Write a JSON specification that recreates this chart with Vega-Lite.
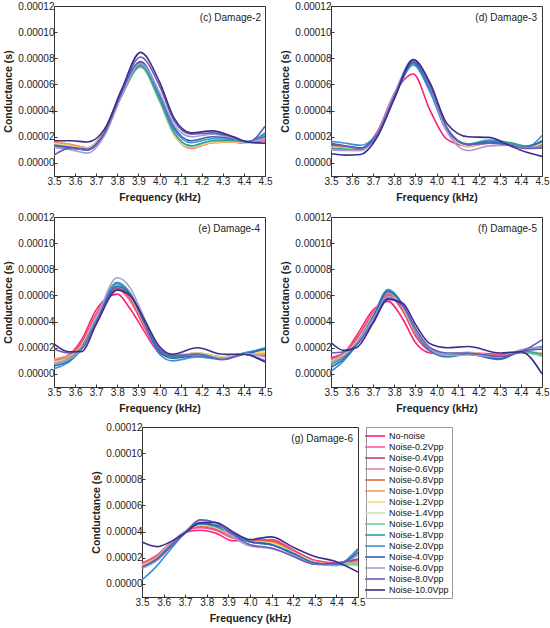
{
  "$schema": "https://vega.github.io/schema/vega-lite/v6.json",
  "padding": {"left": 3, "top": 0, "right": 3, "bottom": 2},
  "config": {
    "font": "Liberation Sans",
    "view": {"stroke": "#333", "strokeWidth": 1},
    "axis": {
      "grid": false,
      "domainColor": "#333",
      "tickColor": "#333",
      "tickSize": -3,
      "labelFontSize": 10,
      "labelColor": "#222",
      "labelPadding": 3,
      "labelOverlap": false,
      "labelFlush": false,
      "titleFontSize": 10.5,
      "titleFontWeight": "bold",
      "titleColor": "#222"
    },
    "axisX": {"titlePadding": 6, "tickCount": 11},
    "axisY": {"titlePadding": 4, "tickCount": 7},
    "text": {"font": "Liberation Sans", "fontSize": 10, "color": "#222"},
    "line": {"strokeWidth": 1.6, "interpolate": "monotone"}
  },
  "datasets": {
    "cond": [
{"p":"c","s":"No-noise","f":3.5,"g":1.5e-5},{"p":"c","s":"No-noise","f":3.58,"g":1.35e-5},{"p":"c","s":"No-noise","f":3.66,"g":1.15e-5},{"p":"c","s":"No-noise","f":3.74,"g":2.5e-5},{"p":"c","s":"No-noise","f":3.82,"g":5.4e-5},{"p":"c","s":"No-noise","f":3.91,"g":7.7e-5},{"p":"c","s":"No-noise","f":4.0,"g":5.0e-5},{"p":"c","s":"No-noise","f":4.07,"g":2.3e-5},{"p":"c","s":"No-noise","f":4.15,"g":1.2e-5},{"p":"c","s":"No-noise","f":4.25,"g":1.6e-5},{"p":"c","s":"No-noise","f":4.35,"g":1.65e-5},{"p":"c","s":"No-noise","f":4.42,"g":1.55e-5},{"p":"c","s":"No-noise","f":4.5,"g":1.7e-5},
{"p":"c","s":"Noise-0.2Vpp","f":3.5,"g":1.45e-5},{"p":"c","s":"Noise-0.2Vpp","f":3.58,"g":1.3e-5},{"p":"c","s":"Noise-0.2Vpp","f":3.66,"g":1.1e-5},{"p":"c","s":"Noise-0.2Vpp","f":3.74,"g":2.4e-5},{"p":"c","s":"Noise-0.2Vpp","f":3.82,"g":5.2e-5},{"p":"c","s":"Noise-0.2Vpp","f":3.91,"g":7.5e-5},{"p":"c","s":"Noise-0.2Vpp","f":4.0,"g":4.8e-5},{"p":"c","s":"Noise-0.2Vpp","f":4.07,"g":2.2e-5},{"p":"c","s":"Noise-0.2Vpp","f":4.15,"g":1.15e-5},{"p":"c","s":"Noise-0.2Vpp","f":4.25,"g":1.6e-5},{"p":"c","s":"Noise-0.2Vpp","f":4.35,"g":1.65e-5},{"p":"c","s":"Noise-0.2Vpp","f":4.42,"g":1.55e-5},{"p":"c","s":"Noise-0.2Vpp","f":4.5,"g":1.75e-5},
{"p":"c","s":"Noise-0.4Vpp","f":3.5,"g":1.55e-5},{"p":"c","s":"Noise-0.4Vpp","f":3.58,"g":1.35e-5},{"p":"c","s":"Noise-0.4Vpp","f":3.66,"g":1.1e-5},{"p":"c","s":"Noise-0.4Vpp","f":3.74,"g":2.4e-5},{"p":"c","s":"Noise-0.4Vpp","f":3.82,"g":5.25e-5},{"p":"c","s":"Noise-0.4Vpp","f":3.91,"g":7.55e-5},{"p":"c","s":"Noise-0.4Vpp","f":4.0,"g":4.85e-5},{"p":"c","s":"Noise-0.4Vpp","f":4.07,"g":2.2e-5},{"p":"c","s":"Noise-0.4Vpp","f":4.15,"g":1.2e-5},{"p":"c","s":"Noise-0.4Vpp","f":4.25,"g":1.65e-5},{"p":"c","s":"Noise-0.4Vpp","f":4.35,"g":1.6e-5},{"p":"c","s":"Noise-0.4Vpp","f":4.42,"g":1.5e-5},{"p":"c","s":"Noise-0.4Vpp","f":4.5,"g":1.6e-5},
{"p":"c","s":"Noise-0.6Vpp","f":3.5,"g":1.4e-5},{"p":"c","s":"Noise-0.6Vpp","f":3.58,"g":1.25e-5},{"p":"c","s":"Noise-0.6Vpp","f":3.66,"g":1.0e-5},{"p":"c","s":"Noise-0.6Vpp","f":3.74,"g":2.35e-5},{"p":"c","s":"Noise-0.6Vpp","f":3.82,"g":5.15e-5},{"p":"c","s":"Noise-0.6Vpp","f":3.91,"g":7.45e-5},{"p":"c","s":"Noise-0.6Vpp","f":4.0,"g":4.8e-5},{"p":"c","s":"Noise-0.6Vpp","f":4.07,"g":2.15e-5},{"p":"c","s":"Noise-0.6Vpp","f":4.15,"g":1.15e-5},{"p":"c","s":"Noise-0.6Vpp","f":4.25,"g":1.6e-5},{"p":"c","s":"Noise-0.6Vpp","f":4.35,"g":1.7e-5},{"p":"c","s":"Noise-0.6Vpp","f":4.42,"g":1.6e-5},{"p":"c","s":"Noise-0.6Vpp","f":4.5,"g":1.9e-5},
{"p":"c","s":"Noise-0.8Vpp","f":3.5,"g":1.6e-5},{"p":"c","s":"Noise-0.8Vpp","f":3.58,"g":1.4e-5},{"p":"c","s":"Noise-0.8Vpp","f":3.66,"g":1.15e-5},{"p":"c","s":"Noise-0.8Vpp","f":3.74,"g":2.4e-5},{"p":"c","s":"Noise-0.8Vpp","f":3.82,"g":5.2e-5},{"p":"c","s":"Noise-0.8Vpp","f":3.91,"g":7.4e-5},{"p":"c","s":"Noise-0.8Vpp","f":4.0,"g":4.75e-5},{"p":"c","s":"Noise-0.8Vpp","f":4.07,"g":2.15e-5},{"p":"c","s":"Noise-0.8Vpp","f":4.15,"g":1.1e-5},{"p":"c","s":"Noise-0.8Vpp","f":4.25,"g":1.55e-5},{"p":"c","s":"Noise-0.8Vpp","f":4.35,"g":1.6e-5},{"p":"c","s":"Noise-0.8Vpp","f":4.42,"g":1.55e-5},{"p":"c","s":"Noise-0.8Vpp","f":4.5,"g":1.65e-5},
{"p":"c","s":"Noise-1.0Vpp","f":3.5,"g":1.65e-5},{"p":"c","s":"Noise-1.0Vpp","f":3.58,"g":1.4e-5},{"p":"c","s":"Noise-1.0Vpp","f":3.66,"g":1.15e-5},{"p":"c","s":"Noise-1.0Vpp","f":3.74,"g":2.45e-5},{"p":"c","s":"Noise-1.0Vpp","f":3.82,"g":5.2e-5},{"p":"c","s":"Noise-1.0Vpp","f":3.91,"g":7.35e-5},{"p":"c","s":"Noise-1.0Vpp","f":4.0,"g":4.7e-5},{"p":"c","s":"Noise-1.0Vpp","f":4.07,"g":2.1e-5},{"p":"c","s":"Noise-1.0Vpp","f":4.15,"g":1.15e-5},{"p":"c","s":"Noise-1.0Vpp","f":4.25,"g":1.55e-5},{"p":"c","s":"Noise-1.0Vpp","f":4.35,"g":1.6e-5},{"p":"c","s":"Noise-1.0Vpp","f":4.42,"g":1.5e-5},{"p":"c","s":"Noise-1.0Vpp","f":4.5,"g":1.6e-5},
{"p":"c","s":"Noise-1.2Vpp","f":3.5,"g":1.5e-5},{"p":"c","s":"Noise-1.2Vpp","f":3.58,"g":1.3e-5},{"p":"c","s":"Noise-1.2Vpp","f":3.66,"g":1.1e-5},{"p":"c","s":"Noise-1.2Vpp","f":3.74,"g":2.4e-5},{"p":"c","s":"Noise-1.2Vpp","f":3.82,"g":5.15e-5},{"p":"c","s":"Noise-1.2Vpp","f":3.91,"g":7.3e-5},{"p":"c","s":"Noise-1.2Vpp","f":4.0,"g":4.7e-5},{"p":"c","s":"Noise-1.2Vpp","f":4.07,"g":2.1e-5},{"p":"c","s":"Noise-1.2Vpp","f":4.15,"g":1.2e-5},{"p":"c","s":"Noise-1.2Vpp","f":4.25,"g":1.6e-5},{"p":"c","s":"Noise-1.2Vpp","f":4.35,"g":1.65e-5},{"p":"c","s":"Noise-1.2Vpp","f":4.42,"g":1.5e-5},{"p":"c","s":"Noise-1.2Vpp","f":4.5,"g":1.55e-5},
{"p":"c","s":"Noise-1.4Vpp","f":3.5,"g":1.35e-5},{"p":"c","s":"Noise-1.4Vpp","f":3.58,"g":1.2e-5},{"p":"c","s":"Noise-1.4Vpp","f":3.66,"g":1.05e-5},{"p":"c","s":"Noise-1.4Vpp","f":3.74,"g":2.35e-5},{"p":"c","s":"Noise-1.4Vpp","f":3.82,"g":5.1e-5},{"p":"c","s":"Noise-1.4Vpp","f":3.91,"g":7.3e-5},{"p":"c","s":"Noise-1.4Vpp","f":4.0,"g":4.75e-5},{"p":"c","s":"Noise-1.4Vpp","f":4.07,"g":2.2e-5},{"p":"c","s":"Noise-1.4Vpp","f":4.15,"g":1.25e-5},{"p":"c","s":"Noise-1.4Vpp","f":4.25,"g":1.65e-5},{"p":"c","s":"Noise-1.4Vpp","f":4.35,"g":1.7e-5},{"p":"c","s":"Noise-1.4Vpp","f":4.42,"g":1.6e-5},{"p":"c","s":"Noise-1.4Vpp","f":4.5,"g":2.0e-5},
{"p":"c","s":"Noise-1.6Vpp","f":3.5,"g":1.25e-5},{"p":"c","s":"Noise-1.6Vpp","f":3.58,"g":1.15e-5},{"p":"c","s":"Noise-1.6Vpp","f":3.66,"g":1.0e-5},{"p":"c","s":"Noise-1.6Vpp","f":3.74,"g":2.3e-5},{"p":"c","s":"Noise-1.6Vpp","f":3.82,"g":5.1e-5},{"p":"c","s":"Noise-1.6Vpp","f":3.91,"g":7.35e-5},{"p":"c","s":"Noise-1.6Vpp","f":4.0,"g":4.8e-5},{"p":"c","s":"Noise-1.6Vpp","f":4.07,"g":2.25e-5},{"p":"c","s":"Noise-1.6Vpp","f":4.15,"g":1.3e-5},{"p":"c","s":"Noise-1.6Vpp","f":4.25,"g":1.7e-5},{"p":"c","s":"Noise-1.6Vpp","f":4.35,"g":1.75e-5},{"p":"c","s":"Noise-1.6Vpp","f":4.42,"g":1.65e-5},{"p":"c","s":"Noise-1.6Vpp","f":4.5,"g":2.1e-5},
{"p":"c","s":"Noise-1.8Vpp","f":3.5,"g":1.2e-5},{"p":"c","s":"Noise-1.8Vpp","f":3.58,"g":1.1e-5},{"p":"c","s":"Noise-1.8Vpp","f":3.66,"g":1.0e-5},{"p":"c","s":"Noise-1.8Vpp","f":3.74,"g":2.3e-5},{"p":"c","s":"Noise-1.8Vpp","f":3.82,"g":5.15e-5},{"p":"c","s":"Noise-1.8Vpp","f":3.91,"g":7.4e-5},{"p":"c","s":"Noise-1.8Vpp","f":4.0,"g":4.85e-5},{"p":"c","s":"Noise-1.8Vpp","f":4.07,"g":2.3e-5},{"p":"c","s":"Noise-1.8Vpp","f":4.15,"g":1.3e-5},{"p":"c","s":"Noise-1.8Vpp","f":4.25,"g":1.7e-5},{"p":"c","s":"Noise-1.8Vpp","f":4.35,"g":1.7e-5},{"p":"c","s":"Noise-1.8Vpp","f":4.42,"g":1.6e-5},{"p":"c","s":"Noise-1.8Vpp","f":4.5,"g":2.2e-5},
{"p":"c","s":"Noise-2.0Vpp","f":3.5,"g":1.3e-5},{"p":"c","s":"Noise-2.0Vpp","f":3.58,"g":1.15e-5},{"p":"c","s":"Noise-2.0Vpp","f":3.66,"g":1.0e-5},{"p":"c","s":"Noise-2.0Vpp","f":3.74,"g":2.3e-5},{"p":"c","s":"Noise-2.0Vpp","f":3.82,"g":5.2e-5},{"p":"c","s":"Noise-2.0Vpp","f":3.91,"g":7.6e-5},{"p":"c","s":"Noise-2.0Vpp","f":4.0,"g":5.1e-5},{"p":"c","s":"Noise-2.0Vpp","f":4.07,"g":2.55e-5},{"p":"c","s":"Noise-2.0Vpp","f":4.15,"g":1.55e-5},{"p":"c","s":"Noise-2.0Vpp","f":4.25,"g":1.85e-5},{"p":"c","s":"Noise-2.0Vpp","f":4.35,"g":1.8e-5},{"p":"c","s":"Noise-2.0Vpp","f":4.42,"g":1.65e-5},{"p":"c","s":"Noise-2.0Vpp","f":4.5,"g":2.3e-5},
{"p":"c","s":"Noise-4.0Vpp","f":3.5,"g":1.35e-5},{"p":"c","s":"Noise-4.0Vpp","f":3.58,"g":1.2e-5},{"p":"c","s":"Noise-4.0Vpp","f":3.66,"g":1.05e-5},{"p":"c","s":"Noise-4.0Vpp","f":3.74,"g":2.35e-5},{"p":"c","s":"Noise-4.0Vpp","f":3.82,"g":5.3e-5},{"p":"c","s":"Noise-4.0Vpp","f":3.91,"g":7.75e-5},{"p":"c","s":"Noise-4.0Vpp","f":4.0,"g":5.3e-5},{"p":"c","s":"Noise-4.0Vpp","f":4.07,"g":2.7e-5},{"p":"c","s":"Noise-4.0Vpp","f":4.15,"g":1.7e-5},{"p":"c","s":"Noise-4.0Vpp","f":4.25,"g":2.0e-5},{"p":"c","s":"Noise-4.0Vpp","f":4.35,"g":1.85e-5},{"p":"c","s":"Noise-4.0Vpp","f":4.42,"g":1.6e-5},{"p":"c","s":"Noise-4.0Vpp","f":4.5,"g":2.0e-5},
{"p":"c","s":"Noise-6.0Vpp","f":3.5,"g":1.2e-5},{"p":"c","s":"Noise-6.0Vpp","f":3.58,"g":1.0e-5},{"p":"c","s":"Noise-6.0Vpp","f":3.66,"g":0.75e-5},{"p":"c","s":"Noise-6.0Vpp","f":3.74,"g":2.1e-5},{"p":"c","s":"Noise-6.0Vpp","f":3.82,"g":5.1e-5},{"p":"c","s":"Noise-6.0Vpp","f":3.91,"g":7.6e-5},{"p":"c","s":"Noise-6.0Vpp","f":4.0,"g":5.4e-5},{"p":"c","s":"Noise-6.0Vpp","f":4.07,"g":2.9e-5},{"p":"c","s":"Noise-6.0Vpp","f":4.15,"g":2.0e-5},{"p":"c","s":"Noise-6.0Vpp","f":4.25,"g":2.2e-5},{"p":"c","s":"Noise-6.0Vpp","f":4.35,"g":1.9e-5},{"p":"c","s":"Noise-6.0Vpp","f":4.42,"g":1.6e-5},{"p":"c","s":"Noise-6.0Vpp","f":4.5,"g":1.9e-5},
{"p":"c","s":"Noise-8.0Vpp","f":3.5,"g":0.6e-5},{"p":"c","s":"Noise-8.0Vpp","f":3.58,"g":1.15e-5},{"p":"c","s":"Noise-8.0Vpp","f":3.66,"g":1.0e-5},{"p":"c","s":"Noise-8.0Vpp","f":3.74,"g":2.3e-5},{"p":"c","s":"Noise-8.0Vpp","f":3.82,"g":5.4e-5},{"p":"c","s":"Noise-8.0Vpp","f":3.91,"g":8.1e-5},{"p":"c","s":"Noise-8.0Vpp","f":4.0,"g":5.9e-5},{"p":"c","s":"Noise-8.0Vpp","f":4.07,"g":3.2e-5},{"p":"c","s":"Noise-8.0Vpp","f":4.15,"g":2.2e-5},{"p":"c","s":"Noise-8.0Vpp","f":4.25,"g":2.3e-5},{"p":"c","s":"Noise-8.0Vpp","f":4.35,"g":1.95e-5},{"p":"c","s":"Noise-8.0Vpp","f":4.42,"g":1.6e-5},{"p":"c","s":"Noise-8.0Vpp","f":4.5,"g":2.8e-5},
{"p":"c","s":"Noise-10.0Vpp","f":3.5,"g":1.7e-5},{"p":"c","s":"Noise-10.0Vpp","f":3.58,"g":1.7e-5},{"p":"c","s":"Noise-10.0Vpp","f":3.66,"g":1.6e-5},{"p":"c","s":"Noise-10.0Vpp","f":3.74,"g":2.6e-5},{"p":"c","s":"Noise-10.0Vpp","f":3.82,"g":5.6e-5},{"p":"c","s":"Noise-10.0Vpp","f":3.91,"g":8.45e-5},{"p":"c","s":"Noise-10.0Vpp","f":4.0,"g":6.2e-5},{"p":"c","s":"Noise-10.0Vpp","f":4.07,"g":3.4e-5},{"p":"c","s":"Noise-10.0Vpp","f":4.15,"g":2.3e-5},{"p":"c","s":"Noise-10.0Vpp","f":4.25,"g":2.45e-5},{"p":"c","s":"Noise-10.0Vpp","f":4.35,"g":2.0e-5},{"p":"c","s":"Noise-10.0Vpp","f":4.42,"g":1.6e-5},{"p":"c","s":"Noise-10.0Vpp","f":4.5,"g":1.5e-5},

{"p":"d","s":"No-noise","f":3.5,"g":1.25e-5},{"p":"d","s":"No-noise","f":3.57,"g":1.15e-5},{"p":"d","s":"No-noise","f":3.64,"g":1.05e-5},{"p":"d","s":"No-noise","f":3.72,"g":2.4e-5},{"p":"d","s":"No-noise","f":3.8,"g":5.3e-5},{"p":"d","s":"No-noise","f":3.89,"g":6.8e-5},{"p":"d","s":"No-noise","f":3.97,"g":4.0e-5},{"p":"d","s":"No-noise","f":4.05,"g":1.8e-5},{"p":"d","s":"No-noise","f":4.15,"g":1.3e-5},{"p":"d","s":"No-noise","f":4.25,"g":1.5e-5},{"p":"d","s":"No-noise","f":4.35,"g":1.45e-5},{"p":"d","s":"No-noise","f":4.42,"g":1.25e-5},{"p":"d","s":"No-noise","f":4.5,"g":1.3e-5},
{"p":"d","s":"Noise-0.2Vpp","f":3.5,"g":1.3e-5},{"p":"d","s":"Noise-0.2Vpp","f":3.57,"g":1.2e-5},{"p":"d","s":"Noise-0.2Vpp","f":3.64,"g":1.05e-5},{"p":"d","s":"Noise-0.2Vpp","f":3.72,"g":2.3e-5},{"p":"d","s":"Noise-0.2Vpp","f":3.8,"g":5.2e-5},{"p":"d","s":"Noise-0.2Vpp","f":3.89,"g":7.7e-5},{"p":"d","s":"Noise-0.2Vpp","f":3.97,"g":5.5e-5},{"p":"d","s":"Noise-0.2Vpp","f":4.05,"g":2.4e-5},{"p":"d","s":"Noise-0.2Vpp","f":4.15,"g":1.3e-5},{"p":"d","s":"Noise-0.2Vpp","f":4.25,"g":1.6e-5},{"p":"d","s":"Noise-0.2Vpp","f":4.35,"g":1.45e-5},{"p":"d","s":"Noise-0.2Vpp","f":4.42,"g":1.2e-5},{"p":"d","s":"Noise-0.2Vpp","f":4.5,"g":1.35e-5},
{"p":"d","s":"Noise-0.4Vpp","f":3.5,"g":1.25e-5},{"p":"d","s":"Noise-0.4Vpp","f":3.57,"g":1.15e-5},{"p":"d","s":"Noise-0.4Vpp","f":3.64,"g":1.05e-5},{"p":"d","s":"Noise-0.4Vpp","f":3.72,"g":2.25e-5},{"p":"d","s":"Noise-0.4Vpp","f":3.8,"g":5.2e-5},{"p":"d","s":"Noise-0.4Vpp","f":3.89,"g":7.75e-5},{"p":"d","s":"Noise-0.4Vpp","f":3.97,"g":5.55e-5},{"p":"d","s":"Noise-0.4Vpp","f":4.05,"g":2.45e-5},{"p":"d","s":"Noise-0.4Vpp","f":4.15,"g":1.3e-5},{"p":"d","s":"Noise-0.4Vpp","f":4.25,"g":1.6e-5},{"p":"d","s":"Noise-0.4Vpp","f":4.35,"g":1.4e-5},{"p":"d","s":"Noise-0.4Vpp","f":4.42,"g":1.2e-5},{"p":"d","s":"Noise-0.4Vpp","f":4.5,"g":1.4e-5},
{"p":"d","s":"Noise-0.6Vpp","f":3.5,"g":1.2e-5},{"p":"d","s":"Noise-0.6Vpp","f":3.57,"g":1.1e-5},{"p":"d","s":"Noise-0.6Vpp","f":3.64,"g":1.0e-5},{"p":"d","s":"Noise-0.6Vpp","f":3.72,"g":2.2e-5},{"p":"d","s":"Noise-0.6Vpp","f":3.8,"g":5.15e-5},{"p":"d","s":"Noise-0.6Vpp","f":3.89,"g":7.8e-5},{"p":"d","s":"Noise-0.6Vpp","f":3.97,"g":5.6e-5},{"p":"d","s":"Noise-0.6Vpp","f":4.05,"g":2.5e-5},{"p":"d","s":"Noise-0.6Vpp","f":4.15,"g":1.25e-5},{"p":"d","s":"Noise-0.6Vpp","f":4.25,"g":1.55e-5},{"p":"d","s":"Noise-0.6Vpp","f":4.35,"g":1.4e-5},{"p":"d","s":"Noise-0.6Vpp","f":4.42,"g":1.2e-5},{"p":"d","s":"Noise-0.6Vpp","f":4.5,"g":1.45e-5},
{"p":"d","s":"Noise-0.8Vpp","f":3.5,"g":1.35e-5},{"p":"d","s":"Noise-0.8Vpp","f":3.57,"g":1.2e-5},{"p":"d","s":"Noise-0.8Vpp","f":3.64,"g":1.05e-5},{"p":"d","s":"Noise-0.8Vpp","f":3.72,"g":2.3e-5},{"p":"d","s":"Noise-0.8Vpp","f":3.8,"g":5.2e-5},{"p":"d","s":"Noise-0.8Vpp","f":3.89,"g":7.75e-5},{"p":"d","s":"Noise-0.8Vpp","f":3.97,"g":5.55e-5},{"p":"d","s":"Noise-0.8Vpp","f":4.05,"g":2.45e-5},{"p":"d","s":"Noise-0.8Vpp","f":4.15,"g":1.35e-5},{"p":"d","s":"Noise-0.8Vpp","f":4.25,"g":1.6e-5},{"p":"d","s":"Noise-0.8Vpp","f":4.35,"g":1.4e-5},{"p":"d","s":"Noise-0.8Vpp","f":4.42,"g":1.2e-5},{"p":"d","s":"Noise-0.8Vpp","f":4.5,"g":1.45e-5},
{"p":"d","s":"Noise-1.0Vpp","f":3.5,"g":1.3e-5},{"p":"d","s":"Noise-1.0Vpp","f":3.57,"g":1.2e-5},{"p":"d","s":"Noise-1.0Vpp","f":3.64,"g":1.1e-5},{"p":"d","s":"Noise-1.0Vpp","f":3.72,"g":2.25e-5},{"p":"d","s":"Noise-1.0Vpp","f":3.8,"g":5.15e-5},{"p":"d","s":"Noise-1.0Vpp","f":3.89,"g":7.7e-5},{"p":"d","s":"Noise-1.0Vpp","f":3.97,"g":5.5e-5},{"p":"d","s":"Noise-1.0Vpp","f":4.05,"g":2.45e-5},{"p":"d","s":"Noise-1.0Vpp","f":4.15,"g":1.3e-5},{"p":"d","s":"Noise-1.0Vpp","f":4.25,"g":1.6e-5},{"p":"d","s":"Noise-1.0Vpp","f":4.35,"g":1.45e-5},{"p":"d","s":"Noise-1.0Vpp","f":4.42,"g":1.25e-5},{"p":"d","s":"Noise-1.0Vpp","f":4.5,"g":1.5e-5},
{"p":"d","s":"Noise-1.2Vpp","f":3.5,"g":1.15e-5},{"p":"d","s":"Noise-1.2Vpp","f":3.57,"g":1.1e-5},{"p":"d","s":"Noise-1.2Vpp","f":3.64,"g":1.05e-5},{"p":"d","s":"Noise-1.2Vpp","f":3.72,"g":2.25e-5},{"p":"d","s":"Noise-1.2Vpp","f":3.8,"g":5.2e-5},{"p":"d","s":"Noise-1.2Vpp","f":3.89,"g":7.8e-5},{"p":"d","s":"Noise-1.2Vpp","f":3.97,"g":5.6e-5},{"p":"d","s":"Noise-1.2Vpp","f":4.05,"g":2.5e-5},{"p":"d","s":"Noise-1.2Vpp","f":4.15,"g":1.35e-5},{"p":"d","s":"Noise-1.2Vpp","f":4.25,"g":1.65e-5},{"p":"d","s":"Noise-1.2Vpp","f":4.35,"g":1.45e-5},{"p":"d","s":"Noise-1.2Vpp","f":4.42,"g":1.2e-5},{"p":"d","s":"Noise-1.2Vpp","f":4.5,"g":1.5e-5},
{"p":"d","s":"Noise-1.4Vpp","f":3.5,"g":1.1e-5},{"p":"d","s":"Noise-1.4Vpp","f":3.57,"g":1.05e-5},{"p":"d","s":"Noise-1.4Vpp","f":3.64,"g":1.0e-5},{"p":"d","s":"Noise-1.4Vpp","f":3.72,"g":2.2e-5},{"p":"d","s":"Noise-1.4Vpp","f":3.8,"g":5.15e-5},{"p":"d","s":"Noise-1.4Vpp","f":3.89,"g":7.8e-5},{"p":"d","s":"Noise-1.4Vpp","f":3.97,"g":5.6e-5},{"p":"d","s":"Noise-1.4Vpp","f":4.05,"g":2.5e-5},{"p":"d","s":"Noise-1.4Vpp","f":4.15,"g":1.3e-5},{"p":"d","s":"Noise-1.4Vpp","f":4.25,"g":1.6e-5},{"p":"d","s":"Noise-1.4Vpp","f":4.35,"g":1.45e-5},{"p":"d","s":"Noise-1.4Vpp","f":4.42,"g":1.25e-5},{"p":"d","s":"Noise-1.4Vpp","f":4.5,"g":1.55e-5},
{"p":"d","s":"Noise-1.6Vpp","f":3.5,"g":1.05e-5},{"p":"d","s":"Noise-1.6Vpp","f":3.57,"g":1.0e-5},{"p":"d","s":"Noise-1.6Vpp","f":3.64,"g":0.95e-5},{"p":"d","s":"Noise-1.6Vpp","f":3.72,"g":2.2e-5},{"p":"d","s":"Noise-1.6Vpp","f":3.8,"g":5.15e-5},{"p":"d","s":"Noise-1.6Vpp","f":3.89,"g":7.75e-5},{"p":"d","s":"Noise-1.6Vpp","f":3.97,"g":5.6e-5},{"p":"d","s":"Noise-1.6Vpp","f":4.05,"g":2.55e-5},{"p":"d","s":"Noise-1.6Vpp","f":4.15,"g":1.4e-5},{"p":"d","s":"Noise-1.6Vpp","f":4.25,"g":1.7e-5},{"p":"d","s":"Noise-1.6Vpp","f":4.35,"g":1.5e-5},{"p":"d","s":"Noise-1.6Vpp","f":4.42,"g":1.3e-5},{"p":"d","s":"Noise-1.6Vpp","f":4.5,"g":1.6e-5},
{"p":"d","s":"Noise-1.8Vpp","f":3.5,"g":1.1e-5},{"p":"d","s":"Noise-1.8Vpp","f":3.57,"g":1.05e-5},{"p":"d","s":"Noise-1.8Vpp","f":3.64,"g":1.0e-5},{"p":"d","s":"Noise-1.8Vpp","f":3.72,"g":2.2e-5},{"p":"d","s":"Noise-1.8Vpp","f":3.8,"g":5.1e-5},{"p":"d","s":"Noise-1.8Vpp","f":3.89,"g":7.6e-5},{"p":"d","s":"Noise-1.8Vpp","f":3.97,"g":5.5e-5},{"p":"d","s":"Noise-1.8Vpp","f":4.05,"g":2.5e-5},{"p":"d","s":"Noise-1.8Vpp","f":4.15,"g":1.45e-5},{"p":"d","s":"Noise-1.8Vpp","f":4.25,"g":1.75e-5},{"p":"d","s":"Noise-1.8Vpp","f":4.35,"g":1.55e-5},{"p":"d","s":"Noise-1.8Vpp","f":4.42,"g":1.3e-5},{"p":"d","s":"Noise-1.8Vpp","f":4.5,"g":1.6e-5},
{"p":"d","s":"Noise-2.0Vpp","f":3.5,"g":1.65e-5},{"p":"d","s":"Noise-2.0Vpp","f":3.57,"g":1.5e-5},{"p":"d","s":"Noise-2.0Vpp","f":3.64,"g":1.35e-5},{"p":"d","s":"Noise-2.0Vpp","f":3.72,"g":2.3e-5},{"p":"d","s":"Noise-2.0Vpp","f":3.8,"g":5.0e-5},{"p":"d","s":"Noise-2.0Vpp","f":3.89,"g":7.5e-5},{"p":"d","s":"Noise-2.0Vpp","f":3.97,"g":5.4e-5},{"p":"d","s":"Noise-2.0Vpp","f":4.05,"g":2.45e-5},{"p":"d","s":"Noise-2.0Vpp","f":4.15,"g":1.4e-5},{"p":"d","s":"Noise-2.0Vpp","f":4.25,"g":1.7e-5},{"p":"d","s":"Noise-2.0Vpp","f":4.35,"g":1.4e-5},{"p":"d","s":"Noise-2.0Vpp","f":4.42,"g":1.15e-5},{"p":"d","s":"Noise-2.0Vpp","f":4.5,"g":2.1e-5},
{"p":"d","s":"Noise-4.0Vpp","f":3.5,"g":1.4e-5},{"p":"d","s":"Noise-4.0Vpp","f":3.57,"g":1.3e-5},{"p":"d","s":"Noise-4.0Vpp","f":3.64,"g":1.15e-5},{"p":"d","s":"Noise-4.0Vpp","f":3.72,"g":2.3e-5},{"p":"d","s":"Noise-4.0Vpp","f":3.8,"g":5.1e-5},{"p":"d","s":"Noise-4.0Vpp","f":3.89,"g":7.7e-5},{"p":"d","s":"Noise-4.0Vpp","f":3.97,"g":5.7e-5},{"p":"d","s":"Noise-4.0Vpp","f":4.05,"g":2.6e-5},{"p":"d","s":"Noise-4.0Vpp","f":4.15,"g":1.4e-5},{"p":"d","s":"Noise-4.0Vpp","f":4.25,"g":1.6e-5},{"p":"d","s":"Noise-4.0Vpp","f":4.35,"g":1.4e-5},{"p":"d","s":"Noise-4.0Vpp","f":4.42,"g":1.2e-5},{"p":"d","s":"Noise-4.0Vpp","f":4.5,"g":1.7e-5},
{"p":"d","s":"Noise-6.0Vpp","f":3.5,"g":1.0e-5},{"p":"d","s":"Noise-6.0Vpp","f":3.57,"g":0.95e-5},{"p":"d","s":"Noise-6.0Vpp","f":3.64,"g":0.95e-5},{"p":"d","s":"Noise-6.0Vpp","f":3.72,"g":2.3e-5},{"p":"d","s":"Noise-6.0Vpp","f":3.8,"g":5.3e-5},{"p":"d","s":"Noise-6.0Vpp","f":3.89,"g":7.9e-5},{"p":"d","s":"Noise-6.0Vpp","f":3.97,"g":5.8e-5},{"p":"d","s":"Noise-6.0Vpp","f":4.05,"g":2.4e-5},{"p":"d","s":"Noise-6.0Vpp","f":4.15,"g":0.95e-5},{"p":"d","s":"Noise-6.0Vpp","f":4.25,"g":1.3e-5},{"p":"d","s":"Noise-6.0Vpp","f":4.35,"g":1.35e-5},{"p":"d","s":"Noise-6.0Vpp","f":4.42,"g":1.15e-5},{"p":"d","s":"Noise-6.0Vpp","f":4.5,"g":1.25e-5},
{"p":"d","s":"Noise-8.0Vpp","f":3.5,"g":1.5e-5},{"p":"d","s":"Noise-8.0Vpp","f":3.57,"g":1.3e-5},{"p":"d","s":"Noise-8.0Vpp","f":3.64,"g":1.1e-5},{"p":"d","s":"Noise-8.0Vpp","f":3.72,"g":2.2e-5},{"p":"d","s":"Noise-8.0Vpp","f":3.8,"g":5.1e-5},{"p":"d","s":"Noise-8.0Vpp","f":3.89,"g":7.85e-5},{"p":"d","s":"Noise-8.0Vpp","f":3.97,"g":5.9e-5},{"p":"d","s":"Noise-8.0Vpp","f":4.05,"g":2.7e-5},{"p":"d","s":"Noise-8.0Vpp","f":4.15,"g":1.4e-5},{"p":"d","s":"Noise-8.0Vpp","f":4.25,"g":1.5e-5},{"p":"d","s":"Noise-8.0Vpp","f":4.35,"g":1.35e-5},{"p":"d","s":"Noise-8.0Vpp","f":4.42,"g":1.1e-5},{"p":"d","s":"Noise-8.0Vpp","f":4.5,"g":1.15e-5},
{"p":"d","s":"Noise-10.0Vpp","f":3.5,"g":0.7e-5},{"p":"d","s":"Noise-10.0Vpp","f":3.57,"g":0.6e-5},{"p":"d","s":"Noise-10.0Vpp","f":3.64,"g":0.65e-5},{"p":"d","s":"Noise-10.0Vpp","f":3.72,"g":2.0e-5},{"p":"d","s":"Noise-10.0Vpp","f":3.8,"g":4.9e-5},{"p":"d","s":"Noise-10.0Vpp","f":3.89,"g":7.9e-5},{"p":"d","s":"Noise-10.0Vpp","f":3.97,"g":6.1e-5},{"p":"d","s":"Noise-10.0Vpp","f":4.05,"g":3.0e-5},{"p":"d","s":"Noise-10.0Vpp","f":4.15,"g":2.0e-5},{"p":"d","s":"Noise-10.0Vpp","f":4.25,"g":1.95e-5},{"p":"d","s":"Noise-10.0Vpp","f":4.35,"g":1.3e-5},{"p":"d","s":"Noise-10.0Vpp","f":4.42,"g":0.85e-5},{"p":"d","s":"Noise-10.0Vpp","f":4.5,"g":0.5e-5},

{"p":"e","s":"No-noise","f":3.5,"g":1.1e-5},{"p":"e","s":"No-noise","f":3.57,"g":1.45e-5},{"p":"e","s":"No-noise","f":3.63,"g":2.6e-5},{"p":"e","s":"No-noise","f":3.7,"g":4.9e-5},{"p":"e","s":"No-noise","f":3.8,"g":6.1e-5},{"p":"e","s":"No-noise","f":3.86,"g":5.0e-5},{"p":"e","s":"No-noise","f":3.93,"g":3.2e-5},{"p":"e","s":"No-noise","f":4.0,"g":1.6e-5},{"p":"e","s":"No-noise","f":4.06,"g":1.3e-5},{"p":"e","s":"No-noise","f":4.18,"g":1.45e-5},{"p":"e","s":"No-noise","f":4.3,"g":1.3e-5},{"p":"e","s":"No-noise","f":4.4,"g":1.55e-5},{"p":"e","s":"No-noise","f":4.5,"g":1.5e-5},
{"p":"e","s":"Noise-0.2Vpp","f":3.5,"g":1.05e-5},{"p":"e","s":"Noise-0.2Vpp","f":3.57,"g":1.4e-5},{"p":"e","s":"Noise-0.2Vpp","f":3.63,"g":2.4e-5},{"p":"e","s":"Noise-0.2Vpp","f":3.7,"g":4.6e-5},{"p":"e","s":"Noise-0.2Vpp","f":3.8,"g":6.5e-5},{"p":"e","s":"Noise-0.2Vpp","f":3.86,"g":5.6e-5},{"p":"e","s":"Noise-0.2Vpp","f":3.93,"g":3.5e-5},{"p":"e","s":"Noise-0.2Vpp","f":4.0,"g":1.7e-5},{"p":"e","s":"Noise-0.2Vpp","f":4.06,"g":1.35e-5},{"p":"e","s":"Noise-0.2Vpp","f":4.18,"g":1.5e-5},{"p":"e","s":"Noise-0.2Vpp","f":4.3,"g":1.3e-5},{"p":"e","s":"Noise-0.2Vpp","f":4.4,"g":1.55e-5},{"p":"e","s":"Noise-0.2Vpp","f":4.5,"g":1.55e-5},
{"p":"e","s":"Noise-0.4Vpp","f":3.5,"g":0.95e-5},{"p":"e","s":"Noise-0.4Vpp","f":3.57,"g":1.35e-5},{"p":"e","s":"Noise-0.4Vpp","f":3.63,"g":2.3e-5},{"p":"e","s":"Noise-0.4Vpp","f":3.7,"g":4.5e-5},{"p":"e","s":"Noise-0.4Vpp","f":3.8,"g":6.6e-5},{"p":"e","s":"Noise-0.4Vpp","f":3.86,"g":5.8e-5},{"p":"e","s":"Noise-0.4Vpp","f":3.93,"g":3.6e-5},{"p":"e","s":"Noise-0.4Vpp","f":4.0,"g":1.75e-5},{"p":"e","s":"Noise-0.4Vpp","f":4.06,"g":1.35e-5},{"p":"e","s":"Noise-0.4Vpp","f":4.18,"g":1.55e-5},{"p":"e","s":"Noise-0.4Vpp","f":4.3,"g":1.25e-5},{"p":"e","s":"Noise-0.4Vpp","f":4.4,"g":1.55e-5},{"p":"e","s":"Noise-0.4Vpp","f":4.5,"g":1.45e-5},
{"p":"e","s":"Noise-0.6Vpp","f":3.5,"g":1.0e-5},{"p":"e","s":"Noise-0.6Vpp","f":3.57,"g":1.3e-5},{"p":"e","s":"Noise-0.6Vpp","f":3.63,"g":2.2e-5},{"p":"e","s":"Noise-0.6Vpp","f":3.7,"g":4.4e-5},{"p":"e","s":"Noise-0.6Vpp","f":3.8,"g":6.7e-5},{"p":"e","s":"Noise-0.6Vpp","f":3.86,"g":5.9e-5},{"p":"e","s":"Noise-0.6Vpp","f":3.93,"g":3.7e-5},{"p":"e","s":"Noise-0.6Vpp","f":4.0,"g":1.8e-5},{"p":"e","s":"Noise-0.6Vpp","f":4.06,"g":1.35e-5},{"p":"e","s":"Noise-0.6Vpp","f":4.18,"g":1.55e-5},{"p":"e","s":"Noise-0.6Vpp","f":4.3,"g":1.25e-5},{"p":"e","s":"Noise-0.6Vpp","f":4.4,"g":1.55e-5},{"p":"e","s":"Noise-0.6Vpp","f":4.5,"g":1.6e-5},
{"p":"e","s":"Noise-0.8Vpp","f":3.5,"g":1.1e-5},{"p":"e","s":"Noise-0.8Vpp","f":3.57,"g":1.35e-5},{"p":"e","s":"Noise-0.8Vpp","f":3.63,"g":2.2e-5},{"p":"e","s":"Noise-0.8Vpp","f":3.7,"g":4.4e-5},{"p":"e","s":"Noise-0.8Vpp","f":3.8,"g":6.6e-5},{"p":"e","s":"Noise-0.8Vpp","f":3.86,"g":5.85e-5},{"p":"e","s":"Noise-0.8Vpp","f":3.93,"g":3.7e-5},{"p":"e","s":"Noise-0.8Vpp","f":4.0,"g":1.8e-5},{"p":"e","s":"Noise-0.8Vpp","f":4.06,"g":1.4e-5},{"p":"e","s":"Noise-0.8Vpp","f":4.18,"g":1.6e-5},{"p":"e","s":"Noise-0.8Vpp","f":4.3,"g":1.3e-5},{"p":"e","s":"Noise-0.8Vpp","f":4.4,"g":1.5e-5},{"p":"e","s":"Noise-0.8Vpp","f":4.5,"g":1.4e-5},
{"p":"e","s":"Noise-1.0Vpp","f":3.5,"g":1.15e-5},{"p":"e","s":"Noise-1.0Vpp","f":3.57,"g":1.4e-5},{"p":"e","s":"Noise-1.0Vpp","f":3.63,"g":2.2e-5},{"p":"e","s":"Noise-1.0Vpp","f":3.7,"g":4.35e-5},{"p":"e","s":"Noise-1.0Vpp","f":3.8,"g":6.7e-5},{"p":"e","s":"Noise-1.0Vpp","f":3.86,"g":5.95e-5},{"p":"e","s":"Noise-1.0Vpp","f":3.93,"g":3.75e-5},{"p":"e","s":"Noise-1.0Vpp","f":4.0,"g":1.8e-5},{"p":"e","s":"Noise-1.0Vpp","f":4.06,"g":1.4e-5},{"p":"e","s":"Noise-1.0Vpp","f":4.18,"g":1.6e-5},{"p":"e","s":"Noise-1.0Vpp","f":4.3,"g":1.3e-5},{"p":"e","s":"Noise-1.0Vpp","f":4.4,"g":1.55e-5},{"p":"e","s":"Noise-1.0Vpp","f":4.5,"g":1.5e-5},
{"p":"e","s":"Noise-1.2Vpp","f":3.5,"g":0.9e-5},{"p":"e","s":"Noise-1.2Vpp","f":3.57,"g":1.25e-5},{"p":"e","s":"Noise-1.2Vpp","f":3.63,"g":2.1e-5},{"p":"e","s":"Noise-1.2Vpp","f":3.7,"g":4.3e-5},{"p":"e","s":"Noise-1.2Vpp","f":3.8,"g":6.8e-5},{"p":"e","s":"Noise-1.2Vpp","f":3.86,"g":6.0e-5},{"p":"e","s":"Noise-1.2Vpp","f":3.93,"g":3.8e-5},{"p":"e","s":"Noise-1.2Vpp","f":4.0,"g":1.85e-5},{"p":"e","s":"Noise-1.2Vpp","f":4.06,"g":1.4e-5},{"p":"e","s":"Noise-1.2Vpp","f":4.18,"g":1.6e-5},{"p":"e","s":"Noise-1.2Vpp","f":4.3,"g":1.25e-5},{"p":"e","s":"Noise-1.2Vpp","f":4.4,"g":1.55e-5},{"p":"e","s":"Noise-1.2Vpp","f":4.5,"g":1.65e-5},
{"p":"e","s":"Noise-1.4Vpp","f":3.5,"g":0.85e-5},{"p":"e","s":"Noise-1.4Vpp","f":3.57,"g":1.2e-5},{"p":"e","s":"Noise-1.4Vpp","f":3.63,"g":2.05e-5},{"p":"e","s":"Noise-1.4Vpp","f":3.7,"g":4.3e-5},{"p":"e","s":"Noise-1.4Vpp","f":3.8,"g":6.9e-5},{"p":"e","s":"Noise-1.4Vpp","f":3.86,"g":6.1e-5},{"p":"e","s":"Noise-1.4Vpp","f":3.93,"g":3.85e-5},{"p":"e","s":"Noise-1.4Vpp","f":4.0,"g":1.85e-5},{"p":"e","s":"Noise-1.4Vpp","f":4.06,"g":1.4e-5},{"p":"e","s":"Noise-1.4Vpp","f":4.18,"g":1.6e-5},{"p":"e","s":"Noise-1.4Vpp","f":4.3,"g":1.25e-5},{"p":"e","s":"Noise-1.4Vpp","f":4.4,"g":1.6e-5},{"p":"e","s":"Noise-1.4Vpp","f":4.5,"g":1.75e-5},
{"p":"e","s":"Noise-1.6Vpp","f":3.5,"g":0.8e-5},{"p":"e","s":"Noise-1.6Vpp","f":3.57,"g":1.2e-5},{"p":"e","s":"Noise-1.6Vpp","f":3.63,"g":2.0e-5},{"p":"e","s":"Noise-1.6Vpp","f":3.7,"g":4.25e-5},{"p":"e","s":"Noise-1.6Vpp","f":3.8,"g":6.95e-5},{"p":"e","s":"Noise-1.6Vpp","f":3.86,"g":6.2e-5},{"p":"e","s":"Noise-1.6Vpp","f":3.93,"g":3.9e-5},{"p":"e","s":"Noise-1.6Vpp","f":4.0,"g":1.85e-5},{"p":"e","s":"Noise-1.6Vpp","f":4.06,"g":1.35e-5},{"p":"e","s":"Noise-1.6Vpp","f":4.18,"g":1.55e-5},{"p":"e","s":"Noise-1.6Vpp","f":4.3,"g":1.2e-5},{"p":"e","s":"Noise-1.6Vpp","f":4.4,"g":1.6e-5},{"p":"e","s":"Noise-1.6Vpp","f":4.5,"g":1.85e-5},
{"p":"e","s":"Noise-1.8Vpp","f":3.5,"g":0.75e-5},{"p":"e","s":"Noise-1.8Vpp","f":3.57,"g":1.15e-5},{"p":"e","s":"Noise-1.8Vpp","f":3.63,"g":2.0e-5},{"p":"e","s":"Noise-1.8Vpp","f":3.7,"g":4.2e-5},{"p":"e","s":"Noise-1.8Vpp","f":3.8,"g":7.0e-5},{"p":"e","s":"Noise-1.8Vpp","f":3.86,"g":6.2e-5},{"p":"e","s":"Noise-1.8Vpp","f":3.93,"g":3.9e-5},{"p":"e","s":"Noise-1.8Vpp","f":4.0,"g":1.8e-5},{"p":"e","s":"Noise-1.8Vpp","f":4.06,"g":1.3e-5},{"p":"e","s":"Noise-1.8Vpp","f":4.18,"g":1.5e-5},{"p":"e","s":"Noise-1.8Vpp","f":4.3,"g":1.15e-5},{"p":"e","s":"Noise-1.8Vpp","f":4.4,"g":1.6e-5},{"p":"e","s":"Noise-1.8Vpp","f":4.5,"g":1.9e-5},
{"p":"e","s":"Noise-2.0Vpp","f":3.5,"g":0.4e-5},{"p":"e","s":"Noise-2.0Vpp","f":3.57,"g":0.9e-5},{"p":"e","s":"Noise-2.0Vpp","f":3.63,"g":1.9e-5},{"p":"e","s":"Noise-2.0Vpp","f":3.7,"g":4.2e-5},{"p":"e","s":"Noise-2.0Vpp","f":3.8,"g":6.9e-5},{"p":"e","s":"Noise-2.0Vpp","f":3.86,"g":6.1e-5},{"p":"e","s":"Noise-2.0Vpp","f":3.93,"g":3.8e-5},{"p":"e","s":"Noise-2.0Vpp","f":4.0,"g":1.5e-5},{"p":"e","s":"Noise-2.0Vpp","f":4.06,"g":1.0e-5},{"p":"e","s":"Noise-2.0Vpp","f":4.18,"g":1.3e-5},{"p":"e","s":"Noise-2.0Vpp","f":4.3,"g":1.1e-5},{"p":"e","s":"Noise-2.0Vpp","f":4.4,"g":1.55e-5},{"p":"e","s":"Noise-2.0Vpp","f":4.5,"g":2.0e-5},
{"p":"e","s":"Noise-4.0Vpp","f":3.5,"g":0.6e-5},{"p":"e","s":"Noise-4.0Vpp","f":3.57,"g":1.0e-5},{"p":"e","s":"Noise-4.0Vpp","f":3.63,"g":1.9e-5},{"p":"e","s":"Noise-4.0Vpp","f":3.7,"g":4.1e-5},{"p":"e","s":"Noise-4.0Vpp","f":3.8,"g":6.7e-5},{"p":"e","s":"Noise-4.0Vpp","f":3.86,"g":6.1e-5},{"p":"e","s":"Noise-4.0Vpp","f":3.93,"g":3.9e-5},{"p":"e","s":"Noise-4.0Vpp","f":4.0,"g":1.7e-5},{"p":"e","s":"Noise-4.0Vpp","f":4.06,"g":1.2e-5},{"p":"e","s":"Noise-4.0Vpp","f":4.18,"g":1.4e-5},{"p":"e","s":"Noise-4.0Vpp","f":4.3,"g":1.15e-5},{"p":"e","s":"Noise-4.0Vpp","f":4.4,"g":1.5e-5},{"p":"e","s":"Noise-4.0Vpp","f":4.5,"g":1.9e-5},
{"p":"e","s":"Noise-6.0Vpp","f":3.5,"g":0.8e-5},{"p":"e","s":"Noise-6.0Vpp","f":3.57,"g":1.1e-5},{"p":"e","s":"Noise-6.0Vpp","f":3.63,"g":1.9e-5},{"p":"e","s":"Noise-6.0Vpp","f":3.7,"g":4.2e-5},{"p":"e","s":"Noise-6.0Vpp","f":3.8,"g":7.35e-5},{"p":"e","s":"Noise-6.0Vpp","f":3.86,"g":6.6e-5},{"p":"e","s":"Noise-6.0Vpp","f":3.93,"g":4.2e-5},{"p":"e","s":"Noise-6.0Vpp","f":4.0,"g":1.9e-5},{"p":"e","s":"Noise-6.0Vpp","f":4.06,"g":1.45e-5},{"p":"e","s":"Noise-6.0Vpp","f":4.18,"g":1.45e-5},{"p":"e","s":"Noise-6.0Vpp","f":4.3,"g":1.2e-5},{"p":"e","s":"Noise-6.0Vpp","f":4.4,"g":1.55e-5},{"p":"e","s":"Noise-6.0Vpp","f":4.5,"g":1.3e-5},
{"p":"e","s":"Noise-8.0Vpp","f":3.5,"g":1.9e-5},{"p":"e","s":"Noise-8.0Vpp","f":3.57,"g":1.6e-5},{"p":"e","s":"Noise-8.0Vpp","f":3.63,"g":1.9e-5},{"p":"e","s":"Noise-8.0Vpp","f":3.7,"g":4.0e-5},{"p":"e","s":"Noise-8.0Vpp","f":3.8,"g":6.5e-5},{"p":"e","s":"Noise-8.0Vpp","f":3.86,"g":6.0e-5},{"p":"e","s":"Noise-8.0Vpp","f":3.93,"g":4.0e-5},{"p":"e","s":"Noise-8.0Vpp","f":4.0,"g":1.9e-5},{"p":"e","s":"Noise-8.0Vpp","f":4.06,"g":1.4e-5},{"p":"e","s":"Noise-8.0Vpp","f":4.18,"g":1.5e-5},{"p":"e","s":"Noise-8.0Vpp","f":4.3,"g":1.1e-5},{"p":"e","s":"Noise-8.0Vpp","f":4.4,"g":1.5e-5},{"p":"e","s":"Noise-8.0Vpp","f":4.5,"g":1.0e-5},
{"p":"e","s":"Noise-10.0Vpp","f":3.5,"g":2.3e-5},{"p":"e","s":"Noise-10.0Vpp","f":3.57,"g":1.7e-5},{"p":"e","s":"Noise-10.0Vpp","f":3.63,"g":1.7e-5},{"p":"e","s":"Noise-10.0Vpp","f":3.7,"g":3.8e-5},{"p":"e","s":"Noise-10.0Vpp","f":3.8,"g":6.4e-5},{"p":"e","s":"Noise-10.0Vpp","f":3.86,"g":6.0e-5},{"p":"e","s":"Noise-10.0Vpp","f":3.93,"g":4.1e-5},{"p":"e","s":"Noise-10.0Vpp","f":4.0,"g":2.1e-5},{"p":"e","s":"Noise-10.0Vpp","f":4.06,"g":1.5e-5},{"p":"e","s":"Noise-10.0Vpp","f":4.18,"g":2.0e-5},{"p":"e","s":"Noise-10.0Vpp","f":4.3,"g":1.5e-5},{"p":"e","s":"Noise-10.0Vpp","f":4.4,"g":1.5e-5},{"p":"e","s":"Noise-10.0Vpp","f":4.5,"g":0.9e-5},

{"p":"f","s":"No-noise","f":3.5,"g":1.25e-5},{"p":"f","s":"No-noise","f":3.56,"g":1.6e-5},{"p":"f","s":"No-noise","f":3.62,"g":2.9e-5},{"p":"f","s":"No-noise","f":3.7,"g":4.9e-5},{"p":"f","s":"No-noise","f":3.77,"g":5.55e-5},{"p":"f","s":"No-noise","f":3.84,"g":4.2e-5},{"p":"f","s":"No-noise","f":3.9,"g":2.4e-5},{"p":"f","s":"No-noise","f":3.97,"g":1.6e-5},{"p":"f","s":"No-noise","f":4.05,"g":1.5e-5},{"p":"f","s":"No-noise","f":4.15,"g":1.6e-5},{"p":"f","s":"No-noise","f":4.3,"g":1.5e-5},{"p":"f","s":"No-noise","f":4.4,"g":1.65e-5},{"p":"f","s":"No-noise","f":4.5,"g":1.5e-5},
{"p":"f","s":"Noise-0.2Vpp","f":3.5,"g":1.2e-5},{"p":"f","s":"Noise-0.2Vpp","f":3.56,"g":1.6e-5},{"p":"f","s":"Noise-0.2Vpp","f":3.62,"g":2.7e-5},{"p":"f","s":"Noise-0.2Vpp","f":3.7,"g":4.7e-5},{"p":"f","s":"Noise-0.2Vpp","f":3.77,"g":6.0e-5},{"p":"f","s":"Noise-0.2Vpp","f":3.84,"g":4.8e-5},{"p":"f","s":"Noise-0.2Vpp","f":3.9,"g":2.9e-5},{"p":"f","s":"Noise-0.2Vpp","f":3.97,"g":1.75e-5},{"p":"f","s":"Noise-0.2Vpp","f":4.05,"g":1.5e-5},{"p":"f","s":"Noise-0.2Vpp","f":4.15,"g":1.6e-5},{"p":"f","s":"Noise-0.2Vpp","f":4.3,"g":1.45e-5},{"p":"f","s":"Noise-0.2Vpp","f":4.4,"g":1.65e-5},{"p":"f","s":"Noise-0.2Vpp","f":4.5,"g":1.55e-5},
{"p":"f","s":"Noise-0.4Vpp","f":3.5,"g":1.15e-5},{"p":"f","s":"Noise-0.4Vpp","f":3.56,"g":1.55e-5},{"p":"f","s":"Noise-0.4Vpp","f":3.62,"g":2.6e-5},{"p":"f","s":"Noise-0.4Vpp","f":3.7,"g":4.6e-5},{"p":"f","s":"Noise-0.4Vpp","f":3.77,"g":6.1e-5},{"p":"f","s":"Noise-0.4Vpp","f":3.84,"g":4.9e-5},{"p":"f","s":"Noise-0.4Vpp","f":3.9,"g":3.0e-5},{"p":"f","s":"Noise-0.4Vpp","f":3.97,"g":1.8e-5},{"p":"f","s":"Noise-0.4Vpp","f":4.05,"g":1.5e-5},{"p":"f","s":"Noise-0.4Vpp","f":4.15,"g":1.6e-5},{"p":"f","s":"Noise-0.4Vpp","f":4.3,"g":1.4e-5},{"p":"f","s":"Noise-0.4Vpp","f":4.4,"g":1.65e-5},{"p":"f","s":"Noise-0.4Vpp","f":4.5,"g":1.45e-5},
{"p":"f","s":"Noise-0.6Vpp","f":3.5,"g":1.1e-5},{"p":"f","s":"Noise-0.6Vpp","f":3.56,"g":1.5e-5},{"p":"f","s":"Noise-0.6Vpp","f":3.62,"g":2.5e-5},{"p":"f","s":"Noise-0.6Vpp","f":3.7,"g":4.55e-5},{"p":"f","s":"Noise-0.6Vpp","f":3.77,"g":6.15e-5},{"p":"f","s":"Noise-0.6Vpp","f":3.84,"g":5.0e-5},{"p":"f","s":"Noise-0.6Vpp","f":3.9,"g":3.1e-5},{"p":"f","s":"Noise-0.6Vpp","f":3.97,"g":1.85e-5},{"p":"f","s":"Noise-0.6Vpp","f":4.05,"g":1.5e-5},{"p":"f","s":"Noise-0.6Vpp","f":4.15,"g":1.6e-5},{"p":"f","s":"Noise-0.6Vpp","f":4.3,"g":1.4e-5},{"p":"f","s":"Noise-0.6Vpp","f":4.4,"g":1.7e-5},{"p":"f","s":"Noise-0.6Vpp","f":4.5,"g":1.5e-5},
{"p":"f","s":"Noise-0.8Vpp","f":3.5,"g":1.05e-5},{"p":"f","s":"Noise-0.8Vpp","f":3.56,"g":1.5e-5},{"p":"f","s":"Noise-0.8Vpp","f":3.62,"g":2.5e-5},{"p":"f","s":"Noise-0.8Vpp","f":3.7,"g":4.5e-5},{"p":"f","s":"Noise-0.8Vpp","f":3.77,"g":6.2e-5},{"p":"f","s":"Noise-0.8Vpp","f":3.84,"g":5.05e-5},{"p":"f","s":"Noise-0.8Vpp","f":3.9,"g":3.15e-5},{"p":"f","s":"Noise-0.8Vpp","f":3.97,"g":1.85e-5},{"p":"f","s":"Noise-0.8Vpp","f":4.05,"g":1.5e-5},{"p":"f","s":"Noise-0.8Vpp","f":4.15,"g":1.6e-5},{"p":"f","s":"Noise-0.8Vpp","f":4.3,"g":1.35e-5},{"p":"f","s":"Noise-0.8Vpp","f":4.4,"g":1.7e-5},{"p":"f","s":"Noise-0.8Vpp","f":4.5,"g":1.55e-5},
{"p":"f","s":"Noise-1.0Vpp","f":3.5,"g":1.0e-5},{"p":"f","s":"Noise-1.0Vpp","f":3.56,"g":1.45e-5},{"p":"f","s":"Noise-1.0Vpp","f":3.62,"g":2.45e-5},{"p":"f","s":"Noise-1.0Vpp","f":3.7,"g":4.5e-5},{"p":"f","s":"Noise-1.0Vpp","f":3.77,"g":6.25e-5},{"p":"f","s":"Noise-1.0Vpp","f":3.84,"g":5.1e-5},{"p":"f","s":"Noise-1.0Vpp","f":3.9,"g":3.2e-5},{"p":"f","s":"Noise-1.0Vpp","f":3.97,"g":1.9e-5},{"p":"f","s":"Noise-1.0Vpp","f":4.05,"g":1.5e-5},{"p":"f","s":"Noise-1.0Vpp","f":4.15,"g":1.65e-5},{"p":"f","s":"Noise-1.0Vpp","f":4.3,"g":1.35e-5},{"p":"f","s":"Noise-1.0Vpp","f":4.4,"g":1.7e-5},{"p":"f","s":"Noise-1.0Vpp","f":4.5,"g":1.6e-5},
{"p":"f","s":"Noise-1.2Vpp","f":3.5,"g":0.95e-5},{"p":"f","s":"Noise-1.2Vpp","f":3.56,"g":1.45e-5},{"p":"f","s":"Noise-1.2Vpp","f":3.62,"g":2.4e-5},{"p":"f","s":"Noise-1.2Vpp","f":3.7,"g":4.45e-5},{"p":"f","s":"Noise-1.2Vpp","f":3.77,"g":6.3e-5},{"p":"f","s":"Noise-1.2Vpp","f":3.84,"g":5.15e-5},{"p":"f","s":"Noise-1.2Vpp","f":3.9,"g":3.25e-5},{"p":"f","s":"Noise-1.2Vpp","f":3.97,"g":1.9e-5},{"p":"f","s":"Noise-1.2Vpp","f":4.05,"g":1.5e-5},{"p":"f","s":"Noise-1.2Vpp","f":4.15,"g":1.65e-5},{"p":"f","s":"Noise-1.2Vpp","f":4.3,"g":1.3e-5},{"p":"f","s":"Noise-1.2Vpp","f":4.4,"g":1.75e-5},{"p":"f","s":"Noise-1.2Vpp","f":4.5,"g":1.55e-5},
{"p":"f","s":"Noise-1.4Vpp","f":3.5,"g":0.9e-5},{"p":"f","s":"Noise-1.4Vpp","f":3.56,"g":1.4e-5},{"p":"f","s":"Noise-1.4Vpp","f":3.62,"g":2.4e-5},{"p":"f","s":"Noise-1.4Vpp","f":3.7,"g":4.45e-5},{"p":"f","s":"Noise-1.4Vpp","f":3.77,"g":6.3e-5},{"p":"f","s":"Noise-1.4Vpp","f":3.84,"g":5.15e-5},{"p":"f","s":"Noise-1.4Vpp","f":3.9,"g":3.25e-5},{"p":"f","s":"Noise-1.4Vpp","f":3.97,"g":1.9e-5},{"p":"f","s":"Noise-1.4Vpp","f":4.05,"g":1.5e-5},{"p":"f","s":"Noise-1.4Vpp","f":4.15,"g":1.6e-5},{"p":"f","s":"Noise-1.4Vpp","f":4.3,"g":1.3e-5},{"p":"f","s":"Noise-1.4Vpp","f":4.4,"g":1.7e-5},{"p":"f","s":"Noise-1.4Vpp","f":4.5,"g":1.4e-5},
{"p":"f","s":"Noise-1.6Vpp","f":3.5,"g":0.8e-5},{"p":"f","s":"Noise-1.6Vpp","f":3.56,"g":1.35e-5},{"p":"f","s":"Noise-1.6Vpp","f":3.62,"g":2.35e-5},{"p":"f","s":"Noise-1.6Vpp","f":3.7,"g":4.4e-5},{"p":"f","s":"Noise-1.6Vpp","f":3.77,"g":6.35e-5},{"p":"f","s":"Noise-1.6Vpp","f":3.84,"g":5.2e-5},{"p":"f","s":"Noise-1.6Vpp","f":3.9,"g":3.3e-5},{"p":"f","s":"Noise-1.6Vpp","f":3.97,"g":1.9e-5},{"p":"f","s":"Noise-1.6Vpp","f":4.05,"g":1.45e-5},{"p":"f","s":"Noise-1.6Vpp","f":4.15,"g":1.55e-5},{"p":"f","s":"Noise-1.6Vpp","f":4.3,"g":1.25e-5},{"p":"f","s":"Noise-1.6Vpp","f":4.4,"g":1.7e-5},{"p":"f","s":"Noise-1.6Vpp","f":4.5,"g":1.35e-5},
{"p":"f","s":"Noise-1.8Vpp","f":3.5,"g":0.7e-5},{"p":"f","s":"Noise-1.8Vpp","f":3.56,"g":1.3e-5},{"p":"f","s":"Noise-1.8Vpp","f":3.62,"g":2.3e-5},{"p":"f","s":"Noise-1.8Vpp","f":3.7,"g":4.4e-5},{"p":"f","s":"Noise-1.8Vpp","f":3.77,"g":6.4e-5},{"p":"f","s":"Noise-1.8Vpp","f":3.84,"g":5.25e-5},{"p":"f","s":"Noise-1.8Vpp","f":3.9,"g":3.3e-5},{"p":"f","s":"Noise-1.8Vpp","f":3.97,"g":1.85e-5},{"p":"f","s":"Noise-1.8Vpp","f":4.05,"g":1.4e-5},{"p":"f","s":"Noise-1.8Vpp","f":4.15,"g":1.55e-5},{"p":"f","s":"Noise-1.8Vpp","f":4.3,"g":1.2e-5},{"p":"f","s":"Noise-1.8Vpp","f":4.4,"g":1.75e-5},{"p":"f","s":"Noise-1.8Vpp","f":4.5,"g":1.5e-5},
{"p":"f","s":"Noise-2.0Vpp","f":3.5,"g":0.2e-5},{"p":"f","s":"Noise-2.0Vpp","f":3.56,"g":1.0e-5},{"p":"f","s":"Noise-2.0Vpp","f":3.62,"g":2.2e-5},{"p":"f","s":"Noise-2.0Vpp","f":3.7,"g":4.4e-5},{"p":"f","s":"Noise-2.0Vpp","f":3.77,"g":6.45e-5},{"p":"f","s":"Noise-2.0Vpp","f":3.84,"g":5.3e-5},{"p":"f","s":"Noise-2.0Vpp","f":3.9,"g":3.3e-5},{"p":"f","s":"Noise-2.0Vpp","f":3.97,"g":1.75e-5},{"p":"f","s":"Noise-2.0Vpp","f":4.05,"g":1.3e-5},{"p":"f","s":"Noise-2.0Vpp","f":4.15,"g":1.5e-5},{"p":"f","s":"Noise-2.0Vpp","f":4.3,"g":1.1e-5},{"p":"f","s":"Noise-2.0Vpp","f":4.4,"g":1.8e-5},{"p":"f","s":"Noise-2.0Vpp","f":4.5,"g":2.1e-5},
{"p":"f","s":"Noise-4.0Vpp","f":3.5,"g":0.5e-5},{"p":"f","s":"Noise-4.0Vpp","f":3.56,"g":1.15e-5},{"p":"f","s":"Noise-4.0Vpp","f":3.62,"g":2.2e-5},{"p":"f","s":"Noise-4.0Vpp","f":3.7,"g":4.3e-5},{"p":"f","s":"Noise-4.0Vpp","f":3.77,"g":6.3e-5},{"p":"f","s":"Noise-4.0Vpp","f":3.84,"g":5.3e-5},{"p":"f","s":"Noise-4.0Vpp","f":3.9,"g":3.4e-5},{"p":"f","s":"Noise-4.0Vpp","f":3.97,"g":1.8e-5},{"p":"f","s":"Noise-4.0Vpp","f":4.05,"g":1.35e-5},{"p":"f","s":"Noise-4.0Vpp","f":4.15,"g":1.5e-5},{"p":"f","s":"Noise-4.0Vpp","f":4.3,"g":1.15e-5},{"p":"f","s":"Noise-4.0Vpp","f":4.4,"g":1.75e-5},{"p":"f","s":"Noise-4.0Vpp","f":4.5,"g":1.9e-5},
{"p":"f","s":"Noise-6.0Vpp","f":3.5,"g":0.9e-5},{"p":"f","s":"Noise-6.0Vpp","f":3.56,"g":1.4e-5},{"p":"f","s":"Noise-6.0Vpp","f":3.62,"g":2.3e-5},{"p":"f","s":"Noise-6.0Vpp","f":3.7,"g":4.2e-5},{"p":"f","s":"Noise-6.0Vpp","f":3.77,"g":5.9e-5},{"p":"f","s":"Noise-6.0Vpp","f":3.84,"g":5.2e-5},{"p":"f","s":"Noise-6.0Vpp","f":3.9,"g":3.4e-5},{"p":"f","s":"Noise-6.0Vpp","f":3.97,"g":1.9e-5},{"p":"f","s":"Noise-6.0Vpp","f":4.05,"g":1.4e-5},{"p":"f","s":"Noise-6.0Vpp","f":4.15,"g":1.45e-5},{"p":"f","s":"Noise-6.0Vpp","f":4.3,"g":1.3e-5},{"p":"f","s":"Noise-6.0Vpp","f":4.4,"g":1.85e-5},{"p":"f","s":"Noise-6.0Vpp","f":4.5,"g":2.0e-5},
{"p":"f","s":"Noise-8.0Vpp","f":3.5,"g":1.6e-5},{"p":"f","s":"Noise-8.0Vpp","f":3.56,"g":1.7e-5},{"p":"f","s":"Noise-8.0Vpp","f":3.62,"g":2.2e-5},{"p":"f","s":"Noise-8.0Vpp","f":3.7,"g":4.0e-5},{"p":"f","s":"Noise-8.0Vpp","f":3.77,"g":5.8e-5},{"p":"f","s":"Noise-8.0Vpp","f":3.84,"g":5.2e-5},{"p":"f","s":"Noise-8.0Vpp","f":3.9,"g":3.5e-5},{"p":"f","s":"Noise-8.0Vpp","f":3.97,"g":2.0e-5},{"p":"f","s":"Noise-8.0Vpp","f":4.05,"g":1.6e-5},{"p":"f","s":"Noise-8.0Vpp","f":4.15,"g":1.6e-5},{"p":"f","s":"Noise-8.0Vpp","f":4.3,"g":1.35e-5},{"p":"f","s":"Noise-8.0Vpp","f":4.4,"g":1.7e-5},{"p":"f","s":"Noise-8.0Vpp","f":4.5,"g":2.6e-5},
{"p":"f","s":"Noise-10.0Vpp","f":3.5,"g":2.4e-5},{"p":"f","s":"Noise-10.0Vpp","f":3.56,"g":1.8e-5},{"p":"f","s":"Noise-10.0Vpp","f":3.62,"g":2.0e-5},{"p":"f","s":"Noise-10.0Vpp","f":3.7,"g":3.9e-5},{"p":"f","s":"Noise-10.0Vpp","f":3.77,"g":5.7e-5},{"p":"f","s":"Noise-10.0Vpp","f":3.84,"g":5.4e-5},{"p":"f","s":"Noise-10.0Vpp","f":3.9,"g":3.8e-5},{"p":"f","s":"Noise-10.0Vpp","f":3.97,"g":2.3e-5},{"p":"f","s":"Noise-10.0Vpp","f":4.05,"g":2.0e-5},{"p":"f","s":"Noise-10.0Vpp","f":4.15,"g":2.1e-5},{"p":"f","s":"Noise-10.0Vpp","f":4.3,"g":1.6e-5},{"p":"f","s":"Noise-10.0Vpp","f":4.4,"g":1.7e-5},{"p":"f","s":"Noise-10.0Vpp","f":4.5,"g":0.0},

{"p":"g","s":"No-noise","f":3.5,"g":1.6e-5},{"p":"g","s":"No-noise","f":3.57,"g":2.2e-5},{"p":"g","s":"No-noise","f":3.63,"g":3.1e-5},{"p":"g","s":"No-noise","f":3.7,"g":3.95e-5},{"p":"g","s":"No-noise","f":3.77,"g":4.1e-5},{"p":"g","s":"No-noise","f":3.84,"g":3.9e-5},{"p":"g","s":"No-noise","f":3.92,"g":3.3e-5},{"p":"g","s":"No-noise","f":4.0,"g":3.3e-5},{"p":"g","s":"No-noise","f":4.1,"g":3.4e-5},{"p":"g","s":"No-noise","f":4.2,"g":2.6e-5},{"p":"g","s":"No-noise","f":4.3,"g":1.8e-5},{"p":"g","s":"No-noise","f":4.4,"g":1.6e-5},{"p":"g","s":"No-noise","f":4.5,"g":1.8e-5},
{"p":"g","s":"Noise-0.2Vpp","f":3.5,"g":1.6e-5},{"p":"g","s":"Noise-0.2Vpp","f":3.57,"g":2.2e-5},{"p":"g","s":"Noise-0.2Vpp","f":3.63,"g":3.05e-5},{"p":"g","s":"Noise-0.2Vpp","f":3.7,"g":4.0e-5},{"p":"g","s":"Noise-0.2Vpp","f":3.77,"g":4.3e-5},{"p":"g","s":"Noise-0.2Vpp","f":3.84,"g":4.1e-5},{"p":"g","s":"Noise-0.2Vpp","f":3.92,"g":3.5e-5},{"p":"g","s":"Noise-0.2Vpp","f":4.0,"g":3.3e-5},{"p":"g","s":"Noise-0.2Vpp","f":4.1,"g":3.35e-5},{"p":"g","s":"Noise-0.2Vpp","f":4.2,"g":2.55e-5},{"p":"g","s":"Noise-0.2Vpp","f":4.3,"g":1.75e-5},{"p":"g","s":"Noise-0.2Vpp","f":4.4,"g":1.55e-5},{"p":"g","s":"Noise-0.2Vpp","f":4.5,"g":1.8e-5},
{"p":"g","s":"Noise-0.4Vpp","f":3.5,"g":1.5e-5},{"p":"g","s":"Noise-0.4Vpp","f":3.57,"g":2.1e-5},{"p":"g","s":"Noise-0.4Vpp","f":3.63,"g":3.0e-5},{"p":"g","s":"Noise-0.4Vpp","f":3.7,"g":4.0e-5},{"p":"g","s":"Noise-0.4Vpp","f":3.77,"g":4.4e-5},{"p":"g","s":"Noise-0.4Vpp","f":3.84,"g":4.2e-5},{"p":"g","s":"Noise-0.4Vpp","f":3.92,"g":3.6e-5},{"p":"g","s":"Noise-0.4Vpp","f":4.0,"g":3.3e-5},{"p":"g","s":"Noise-0.4Vpp","f":4.1,"g":3.3e-5},{"p":"g","s":"Noise-0.4Vpp","f":4.2,"g":2.5e-5},{"p":"g","s":"Noise-0.4Vpp","f":4.3,"g":1.7e-5},{"p":"g","s":"Noise-0.4Vpp","f":4.4,"g":1.55e-5},{"p":"g","s":"Noise-0.4Vpp","f":4.5,"g":1.85e-5},
{"p":"g","s":"Noise-0.6Vpp","f":3.5,"g":1.45e-5},{"p":"g","s":"Noise-0.6Vpp","f":3.57,"g":2.1e-5},{"p":"g","s":"Noise-0.6Vpp","f":3.63,"g":3.0e-5},{"p":"g","s":"Noise-0.6Vpp","f":3.7,"g":4.0e-5},{"p":"g","s":"Noise-0.6Vpp","f":3.77,"g":4.45e-5},{"p":"g","s":"Noise-0.6Vpp","f":3.84,"g":4.25e-5},{"p":"g","s":"Noise-0.6Vpp","f":3.92,"g":3.6e-5},{"p":"g","s":"Noise-0.6Vpp","f":4.0,"g":3.25e-5},{"p":"g","s":"Noise-0.6Vpp","f":4.1,"g":3.2e-5},{"p":"g","s":"Noise-0.6Vpp","f":4.2,"g":2.45e-5},{"p":"g","s":"Noise-0.6Vpp","f":4.3,"g":1.7e-5},{"p":"g","s":"Noise-0.6Vpp","f":4.4,"g":1.5e-5},{"p":"g","s":"Noise-0.6Vpp","f":4.5,"g":1.6e-5},
{"p":"g","s":"Noise-0.8Vpp","f":3.5,"g":1.5e-5},{"p":"g","s":"Noise-0.8Vpp","f":3.57,"g":2.1e-5},{"p":"g","s":"Noise-0.8Vpp","f":3.63,"g":3.0e-5},{"p":"g","s":"Noise-0.8Vpp","f":3.7,"g":4.0e-5},{"p":"g","s":"Noise-0.8Vpp","f":3.77,"g":4.5e-5},{"p":"g","s":"Noise-0.8Vpp","f":3.84,"g":4.3e-5},{"p":"g","s":"Noise-0.8Vpp","f":3.92,"g":3.7e-5},{"p":"g","s":"Noise-0.8Vpp","f":4.0,"g":3.3e-5},{"p":"g","s":"Noise-0.8Vpp","f":4.1,"g":3.25e-5},{"p":"g","s":"Noise-0.8Vpp","f":4.2,"g":2.45e-5},{"p":"g","s":"Noise-0.8Vpp","f":4.3,"g":1.7e-5},{"p":"g","s":"Noise-0.8Vpp","f":4.4,"g":1.5e-5},{"p":"g","s":"Noise-0.8Vpp","f":4.5,"g":1.8e-5},
{"p":"g","s":"Noise-1.0Vpp","f":3.5,"g":1.45e-5},{"p":"g","s":"Noise-1.0Vpp","f":3.57,"g":2.05e-5},{"p":"g","s":"Noise-1.0Vpp","f":3.63,"g":3.0e-5},{"p":"g","s":"Noise-1.0Vpp","f":3.7,"g":4.0e-5},{"p":"g","s":"Noise-1.0Vpp","f":3.77,"g":4.5e-5},{"p":"g","s":"Noise-1.0Vpp","f":3.84,"g":4.3e-5},{"p":"g","s":"Noise-1.0Vpp","f":3.92,"g":3.7e-5},{"p":"g","s":"Noise-1.0Vpp","f":4.0,"g":3.25e-5},{"p":"g","s":"Noise-1.0Vpp","f":4.1,"g":3.15e-5},{"p":"g","s":"Noise-1.0Vpp","f":4.2,"g":2.4e-5},{"p":"g","s":"Noise-1.0Vpp","f":4.3,"g":1.7e-5},{"p":"g","s":"Noise-1.0Vpp","f":4.4,"g":1.5e-5},{"p":"g","s":"Noise-1.0Vpp","f":4.5,"g":1.7e-5},
{"p":"g","s":"Noise-1.2Vpp","f":3.5,"g":1.4e-5},{"p":"g","s":"Noise-1.2Vpp","f":3.57,"g":2.0e-5},{"p":"g","s":"Noise-1.2Vpp","f":3.63,"g":3.0e-5},{"p":"g","s":"Noise-1.2Vpp","f":3.7,"g":4.0e-5},{"p":"g","s":"Noise-1.2Vpp","f":3.77,"g":4.55e-5},{"p":"g","s":"Noise-1.2Vpp","f":3.84,"g":4.35e-5},{"p":"g","s":"Noise-1.2Vpp","f":3.92,"g":3.75e-5},{"p":"g","s":"Noise-1.2Vpp","f":4.0,"g":3.25e-5},{"p":"g","s":"Noise-1.2Vpp","f":4.1,"g":3.1e-5},{"p":"g","s":"Noise-1.2Vpp","f":4.2,"g":2.4e-5},{"p":"g","s":"Noise-1.2Vpp","f":4.3,"g":1.65e-5},{"p":"g","s":"Noise-1.2Vpp","f":4.4,"g":1.5e-5},{"p":"g","s":"Noise-1.2Vpp","f":4.5,"g":1.5e-5},
{"p":"g","s":"Noise-1.4Vpp","f":3.5,"g":1.35e-5},{"p":"g","s":"Noise-1.4Vpp","f":3.57,"g":2.0e-5},{"p":"g","s":"Noise-1.4Vpp","f":3.63,"g":2.95e-5},{"p":"g","s":"Noise-1.4Vpp","f":3.7,"g":4.0e-5},{"p":"g","s":"Noise-1.4Vpp","f":3.77,"g":4.55e-5},{"p":"g","s":"Noise-1.4Vpp","f":3.84,"g":4.35e-5},{"p":"g","s":"Noise-1.4Vpp","f":3.92,"g":3.75e-5},{"p":"g","s":"Noise-1.4Vpp","f":4.0,"g":3.2e-5},{"p":"g","s":"Noise-1.4Vpp","f":4.1,"g":3.05e-5},{"p":"g","s":"Noise-1.4Vpp","f":4.2,"g":2.4e-5},{"p":"g","s":"Noise-1.4Vpp","f":4.3,"g":1.65e-5},{"p":"g","s":"Noise-1.4Vpp","f":4.4,"g":1.45e-5},{"p":"g","s":"Noise-1.4Vpp","f":4.5,"g":1.4e-5},
{"p":"g","s":"Noise-1.6Vpp","f":3.5,"g":1.3e-5},{"p":"g","s":"Noise-1.6Vpp","f":3.57,"g":1.95e-5},{"p":"g","s":"Noise-1.6Vpp","f":3.63,"g":2.95e-5},{"p":"g","s":"Noise-1.6Vpp","f":3.7,"g":4.0e-5},{"p":"g","s":"Noise-1.6Vpp","f":3.77,"g":4.6e-5},{"p":"g","s":"Noise-1.6Vpp","f":3.84,"g":4.4e-5},{"p":"g","s":"Noise-1.6Vpp","f":3.92,"g":3.8e-5},{"p":"g","s":"Noise-1.6Vpp","f":4.0,"g":3.2e-5},{"p":"g","s":"Noise-1.6Vpp","f":4.1,"g":3.0e-5},{"p":"g","s":"Noise-1.6Vpp","f":4.2,"g":2.35e-5},{"p":"g","s":"Noise-1.6Vpp","f":4.3,"g":1.6e-5},{"p":"g","s":"Noise-1.6Vpp","f":4.4,"g":1.45e-5},{"p":"g","s":"Noise-1.6Vpp","f":4.5,"g":1.5e-5},
{"p":"g","s":"Noise-1.8Vpp","f":3.5,"g":1.3e-5},{"p":"g","s":"Noise-1.8Vpp","f":3.57,"g":1.95e-5},{"p":"g","s":"Noise-1.8Vpp","f":3.63,"g":2.9e-5},{"p":"g","s":"Noise-1.8Vpp","f":3.7,"g":4.0e-5},{"p":"g","s":"Noise-1.8Vpp","f":3.77,"g":4.6e-5},{"p":"g","s":"Noise-1.8Vpp","f":3.84,"g":4.4e-5},{"p":"g","s":"Noise-1.8Vpp","f":3.92,"g":3.8e-5},{"p":"g","s":"Noise-1.8Vpp","f":4.0,"g":3.2e-5},{"p":"g","s":"Noise-1.8Vpp","f":4.1,"g":3.0e-5},{"p":"g","s":"Noise-1.8Vpp","f":4.2,"g":2.35e-5},{"p":"g","s":"Noise-1.8Vpp","f":4.3,"g":1.6e-5},{"p":"g","s":"Noise-1.8Vpp","f":4.4,"g":1.45e-5},{"p":"g","s":"Noise-1.8Vpp","f":4.5,"g":2.6e-5},
{"p":"g","s":"Noise-2.0Vpp","f":3.5,"g":0.3e-5},{"p":"g","s":"Noise-2.0Vpp","f":3.57,"g":1.4e-5},{"p":"g","s":"Noise-2.0Vpp","f":3.63,"g":2.6e-5},{"p":"g","s":"Noise-2.0Vpp","f":3.7,"g":3.9e-5},{"p":"g","s":"Noise-2.0Vpp","f":3.77,"g":4.6e-5},{"p":"g","s":"Noise-2.0Vpp","f":3.84,"g":4.45e-5},{"p":"g","s":"Noise-2.0Vpp","f":3.92,"g":3.85e-5},{"p":"g","s":"Noise-2.0Vpp","f":4.0,"g":3.2e-5},{"p":"g","s":"Noise-2.0Vpp","f":4.1,"g":3.0e-5},{"p":"g","s":"Noise-2.0Vpp","f":4.2,"g":2.3e-5},{"p":"g","s":"Noise-2.0Vpp","f":4.3,"g":1.55e-5},{"p":"g","s":"Noise-2.0Vpp","f":4.4,"g":1.5e-5},{"p":"g","s":"Noise-2.0Vpp","f":4.5,"g":2.7e-5},
{"p":"g","s":"Noise-4.0Vpp","f":3.5,"g":1.2e-5},{"p":"g","s":"Noise-4.0Vpp","f":3.57,"g":1.9e-5},{"p":"g","s":"Noise-4.0Vpp","f":3.63,"g":2.9e-5},{"p":"g","s":"Noise-4.0Vpp","f":3.7,"g":4.0e-5},{"p":"g","s":"Noise-4.0Vpp","f":3.77,"g":4.65e-5},{"p":"g","s":"Noise-4.0Vpp","f":3.84,"g":4.5e-5},{"p":"g","s":"Noise-4.0Vpp","f":3.92,"g":3.9e-5},{"p":"g","s":"Noise-4.0Vpp","f":4.0,"g":3.25e-5},{"p":"g","s":"Noise-4.0Vpp","f":4.1,"g":3.0e-5},{"p":"g","s":"Noise-4.0Vpp","f":4.2,"g":2.3e-5},{"p":"g","s":"Noise-4.0Vpp","f":4.3,"g":1.6e-5},{"p":"g","s":"Noise-4.0Vpp","f":4.4,"g":1.5e-5},{"p":"g","s":"Noise-4.0Vpp","f":4.5,"g":2.4e-5},
{"p":"g","s":"Noise-6.0Vpp","f":3.5,"g":1.2e-5},{"p":"g","s":"Noise-6.0Vpp","f":3.57,"g":1.8e-5},{"p":"g","s":"Noise-6.0Vpp","f":3.63,"g":2.8e-5},{"p":"g","s":"Noise-6.0Vpp","f":3.7,"g":4.0e-5},{"p":"g","s":"Noise-6.0Vpp","f":3.77,"g":4.9e-5},{"p":"g","s":"Noise-6.0Vpp","f":3.84,"g":4.7e-5},{"p":"g","s":"Noise-6.0Vpp","f":3.92,"g":3.6e-5},{"p":"g","s":"Noise-6.0Vpp","f":4.0,"g":2.9e-5},{"p":"g","s":"Noise-6.0Vpp","f":4.1,"g":2.7e-5},{"p":"g","s":"Noise-6.0Vpp","f":4.2,"g":2.2e-5},{"p":"g","s":"Noise-6.0Vpp","f":4.3,"g":1.5e-5},{"p":"g","s":"Noise-6.0Vpp","f":4.4,"g":1.4e-5},{"p":"g","s":"Noise-6.0Vpp","f":4.5,"g":2.2e-5},
{"p":"g","s":"Noise-8.0Vpp","f":3.5,"g":1.3e-5},{"p":"g","s":"Noise-8.0Vpp","f":3.57,"g":1.9e-5},{"p":"g","s":"Noise-8.0Vpp","f":3.63,"g":2.8e-5},{"p":"g","s":"Noise-8.0Vpp","f":3.7,"g":3.9e-5},{"p":"g","s":"Noise-8.0Vpp","f":3.77,"g":4.9e-5},{"p":"g","s":"Noise-8.0Vpp","f":3.84,"g":4.7e-5},{"p":"g","s":"Noise-8.0Vpp","f":3.92,"g":3.8e-5},{"p":"g","s":"Noise-8.0Vpp","f":4.0,"g":3.0e-5},{"p":"g","s":"Noise-8.0Vpp","f":4.1,"g":2.75e-5},{"p":"g","s":"Noise-8.0Vpp","f":4.2,"g":2.1e-5},{"p":"g","s":"Noise-8.0Vpp","f":4.3,"g":1.5e-5},{"p":"g","s":"Noise-8.0Vpp","f":4.4,"g":1.6e-5},{"p":"g","s":"Noise-8.0Vpp","f":4.5,"g":1.9e-5},
{"p":"g","s":"Noise-10.0Vpp","f":3.5,"g":3.2e-5},{"p":"g","s":"Noise-10.0Vpp","f":3.57,"g":2.85e-5},{"p":"g","s":"Noise-10.0Vpp","f":3.63,"g":3.2e-5},{"p":"g","s":"Noise-10.0Vpp","f":3.7,"g":3.9e-5},{"p":"g","s":"Noise-10.0Vpp","f":3.77,"g":4.7e-5},{"p":"g","s":"Noise-10.0Vpp","f":3.84,"g":4.7e-5},{"p":"g","s":"Noise-10.0Vpp","f":3.92,"g":4.0e-5},{"p":"g","s":"Noise-10.0Vpp","f":4.0,"g":3.4e-5},{"p":"g","s":"Noise-10.0Vpp","f":4.1,"g":3.6e-5},{"p":"g","s":"Noise-10.0Vpp","f":4.2,"g":2.8e-5},{"p":"g","s":"Noise-10.0Vpp","f":4.3,"g":2.1e-5},{"p":"g","s":"Noise-10.0Vpp","f":4.4,"g":1.7e-5},{"p":"g","s":"Noise-10.0Vpp","f":4.5,"g":0.9e-5}
    ]
  },
  "spacing": 7,
  "resolve": {"scale": {"color": "independent"}, "legend": {"color": "independent"}},
  "vconcat": [
    {
      "spacing": 8,
      "vconcat": [
        {
          "spacing": 7,
          "hconcat": [
            {
              "width": 211, "height": 170,
              "layer": [
                {
                  "data": {"name": "cond"},
                  "transform": [{"filter": "datum.p == 'c'"}],
                  "mark": "line",
                  "encoding": {
                    "x": {"field": "f", "type": "quantitative", "scale": {"domain": [3.5, 4.5], "nice": false}, "axis": {"values": [3.5, 3.6, 3.7, 3.8, 3.9, 4.0, 4.1, 4.2, 4.3, 4.4, 4.5], "tickCount": 11, "format": ".1f", "labelOverlap": false, "title": "Frequency (kHz)"}},
                    "y": {"field": "g", "type": "quantitative", "scale": {"domain": [-1e-5, 1.2e-4], "nice": false, "zero": false}, "axis": {"values": [0, 2e-5, 4e-5, 6e-5, 8e-5, 1e-4, 1.2e-4], "tickCount": 7, "format": ".5f", "labelOverlap": false, "title": "Conductance (s)"}},
                    "color": {"field": "s", "type": "nominal", "legend": null,
                      "scale": {"domain": ["No-noise","Noise-0.2Vpp","Noise-0.4Vpp","Noise-0.6Vpp","Noise-0.8Vpp","Noise-1.0Vpp","Noise-1.2Vpp","Noise-1.4Vpp","Noise-1.6Vpp","Noise-1.8Vpp","Noise-2.0Vpp","Noise-4.0Vpp","Noise-6.0Vpp","Noise-8.0Vpp","Noise-10.0Vpp"],
                                "range": ["#ff1f78","#ff5aa5","#c8435e","#e0879b","#f26448","#fb9a57","#fdd27f","#cde8a4","#62d0a2","#2ca59a","#3d8fd6","#3563ab","#a39cd8","#6b5bb6","#3b2e8a"]}}
                  }
                },
                {
                  "data": {"values": [{"label": "(c) Damage-2"}]},
                  "mark": {"type": "text", "align": "right", "baseline": "top", "dx": -4, "dy": 7},
                  "encoding": {"x": {"datum": 4.5, "type": "quantitative"}, "y": {"datum": 1.2e-4, "type": "quantitative"}, "text": {"field": "label"}}
                }
              ]
            },
            {
              "width": 211, "height": 170,
              "layer": [
                {
                  "data": {"name": "cond"},
                  "transform": [{"filter": "datum.p == 'd'"}],
                  "mark": "line",
                  "encoding": {
                    "x": {"field": "f", "type": "quantitative", "scale": {"domain": [3.5, 4.5], "nice": false}, "axis": {"values": [3.5, 3.6, 3.7, 3.8, 3.9, 4.0, 4.1, 4.2, 4.3, 4.4, 4.5], "tickCount": 11, "format": ".1f", "labelOverlap": false, "title": "Frequency (kHz)"}},
                    "y": {"field": "g", "type": "quantitative", "scale": {"domain": [-1e-5, 1.2e-4], "nice": false, "zero": false}, "axis": {"values": [0, 2e-5, 4e-5, 6e-5, 8e-5, 1e-4, 1.2e-4], "tickCount": 7, "format": ".5f", "labelOverlap": false, "title": "Conductance (s)"}},
                    "color": {"field": "s", "type": "nominal", "legend": null,
                      "scale": {"domain": ["No-noise","Noise-0.2Vpp","Noise-0.4Vpp","Noise-0.6Vpp","Noise-0.8Vpp","Noise-1.0Vpp","Noise-1.2Vpp","Noise-1.4Vpp","Noise-1.6Vpp","Noise-1.8Vpp","Noise-2.0Vpp","Noise-4.0Vpp","Noise-6.0Vpp","Noise-8.0Vpp","Noise-10.0Vpp"],
                                "range": ["#ff1f78","#ff5aa5","#c8435e","#e0879b","#f26448","#fb9a57","#fdd27f","#cde8a4","#62d0a2","#2ca59a","#3d8fd6","#3563ab","#a39cd8","#6b5bb6","#3b2e8a"]}}
                  }
                },
                {
                  "data": {"values": [{"label": "(d) Damage-3"}]},
                  "mark": {"type": "text", "align": "right", "baseline": "top", "dx": -5, "dy": 7},
                  "encoding": {"x": {"datum": 4.5, "type": "quantitative"}, "y": {"datum": 1.2e-4, "type": "quantitative"}, "text": {"field": "label"}}
                }
              ]
            }
          ]
        },
        {
          "spacing": 7,
          "hconcat": [
            {
              "width": 211, "height": 170,
              "layer": [
                {
                  "data": {"name": "cond"},
                  "transform": [{"filter": "datum.p == 'e'"}],
                  "mark": "line",
                  "encoding": {
                    "x": {"field": "f", "type": "quantitative", "scale": {"domain": [3.5, 4.5], "nice": false}, "axis": {"values": [3.5, 3.6, 3.7, 3.8, 3.9, 4.0, 4.1, 4.2, 4.3, 4.4, 4.5], "tickCount": 11, "format": ".1f", "labelOverlap": false, "title": "Frequency (kHz)"}},
                    "y": {"field": "g", "type": "quantitative", "scale": {"domain": [-1e-5, 1.2e-4], "nice": false, "zero": false}, "axis": {"values": [0, 2e-5, 4e-5, 6e-5, 8e-5, 1e-4, 1.2e-4], "tickCount": 7, "format": ".5f", "labelOverlap": false, "title": "Conductance (s)"}},
                    "color": {"field": "s", "type": "nominal", "legend": null,
                      "scale": {"domain": ["No-noise","Noise-0.2Vpp","Noise-0.4Vpp","Noise-0.6Vpp","Noise-0.8Vpp","Noise-1.0Vpp","Noise-1.2Vpp","Noise-1.4Vpp","Noise-1.6Vpp","Noise-1.8Vpp","Noise-2.0Vpp","Noise-4.0Vpp","Noise-6.0Vpp","Noise-8.0Vpp","Noise-10.0Vpp"],
                                "range": ["#ff1f78","#ff5aa5","#c8435e","#e0879b","#f26448","#fb9a57","#fdd27f","#cde8a4","#62d0a2","#2ca59a","#3d8fd6","#3563ab","#a39cd8","#6b5bb6","#3b2e8a"]}}
                  }
                },
                {
                  "data": {"values": [{"label": "(e) Damage-4"}]},
                  "mark": {"type": "text", "align": "right", "baseline": "top", "dx": -5, "dy": 7},
                  "encoding": {"x": {"datum": 4.5, "type": "quantitative"}, "y": {"datum": 1.2e-4, "type": "quantitative"}, "text": {"field": "label"}}
                }
              ]
            },
            {
              "width": 211, "height": 170,
              "layer": [
                {
                  "data": {"name": "cond"},
                  "transform": [{"filter": "datum.p == 'f'"}],
                  "mark": "line",
                  "encoding": {
                    "x": {"field": "f", "type": "quantitative", "scale": {"domain": [3.5, 4.5], "nice": false}, "axis": {"values": [3.5, 3.6, 3.7, 3.8, 3.9, 4.0, 4.1, 4.2, 4.3, 4.4, 4.5], "tickCount": 11, "format": ".1f", "labelOverlap": false, "title": "Frequency (kHz)"}},
                    "y": {"field": "g", "type": "quantitative", "scale": {"domain": [-1e-5, 1.2e-4], "nice": false, "zero": false}, "axis": {"values": [0, 2e-5, 4e-5, 6e-5, 8e-5, 1e-4, 1.2e-4], "tickCount": 7, "format": ".5f", "labelOverlap": false, "title": "Conductance (s)"}},
                    "color": {"field": "s", "type": "nominal", "legend": null,
                      "scale": {"domain": ["No-noise","Noise-0.2Vpp","Noise-0.4Vpp","Noise-0.6Vpp","Noise-0.8Vpp","Noise-1.0Vpp","Noise-1.2Vpp","Noise-1.4Vpp","Noise-1.6Vpp","Noise-1.8Vpp","Noise-2.0Vpp","Noise-4.0Vpp","Noise-6.0Vpp","Noise-8.0Vpp","Noise-10.0Vpp"],
                                "range": ["#ff1f78","#ff5aa5","#c8435e","#e0879b","#f26448","#fb9a57","#fdd27f","#cde8a4","#62d0a2","#2ca59a","#3d8fd6","#3563ab","#a39cd8","#6b5bb6","#3b2e8a"]}}
                  }
                },
                {
                  "data": {"values": [{"label": "(f) Damage-5"}]},
                  "mark": {"type": "text", "align": "right", "baseline": "top", "dx": -5, "dy": 7},
                  "encoding": {"x": {"datum": 4.5, "type": "quantitative"}, "y": {"datum": 1.2e-4, "type": "quantitative"}, "text": {"field": "label"}}
                }
              ]
            }
          ]
        }
      ]
    },
    {
      "spacing": 0,
      "hconcat": [
        {
          "width": 37, "height": 170,
          "data": {"values": []},
          "view": {"stroke": null},
          "mark": "text",
          "encoding": {}
        },
        {
          "width": 216, "height": 170,
          "layer": [
            {
              "data": {"name": "cond"},
              "transform": [{"filter": "datum.p == 'g'"}],
              "mark": "line",
              "encoding": {
                "x": {"field": "f", "type": "quantitative", "scale": {"domain": [3.5, 4.5], "nice": false}, "axis": {"values": [3.5, 3.6, 3.7, 3.8, 3.9, 4.0, 4.1, 4.2, 4.3, 4.4, 4.5], "tickCount": 11, "format": ".1f", "labelOverlap": false, "title": "Frequency (kHz)"}},
                "y": {"field": "g", "type": "quantitative", "scale": {"domain": [-1e-5, 1.2e-4], "nice": false, "zero": false}, "axis": {"values": [0, 2e-5, 4e-5, 6e-5, 8e-5, 1e-4, 1.2e-4], "tickCount": 7, "format": ".5f", "labelOverlap": false, "title": "Conductance (s)"}},
                "color": {"field": "s", "type": "nominal",
                  "scale": {"domain": ["No-noise","Noise-0.2Vpp","Noise-0.4Vpp","Noise-0.6Vpp","Noise-0.8Vpp","Noise-1.0Vpp","Noise-1.2Vpp","Noise-1.4Vpp","Noise-1.6Vpp","Noise-1.8Vpp","Noise-2.0Vpp","Noise-4.0Vpp","Noise-6.0Vpp","Noise-8.0Vpp","Noise-10.0Vpp"],
                            "range": ["#ff1f78","#ff5aa5","#c8435e","#e0879b","#f26448","#fb9a57","#fdd27f","#cde8a4","#62d0a2","#2ca59a","#3d8fd6","#3563ab","#a39cd8","#6b5bb6","#3b2e8a"]},
                  "legend": {"orient": "right", "offset": 0, "title": null, "strokeColor": "#999", "padding": 3,
                    "symbolType": "M-2,0L2,0", "symbolSize": 100, "symbolStrokeWidth": 2,
                    "labelFontSize": 9, "labelFont": "Liberation Sans", "labelColor": "#111", "labelOffset": 8, "rowPadding": 0}}
              }
            },
            {
              "data": {"values": [{"label": "(g) Damage-6"}]},
              "mark": {"type": "text", "align": "right", "baseline": "top", "dx": -5, "dy": 7},
              "encoding": {"x": {"datum": 4.5, "type": "quantitative"}, "y": {"datum": 1.2e-4, "type": "quantitative"}, "text": {"field": "label"}}
            }
          ]
        }
      ]
    }
  ]
}
